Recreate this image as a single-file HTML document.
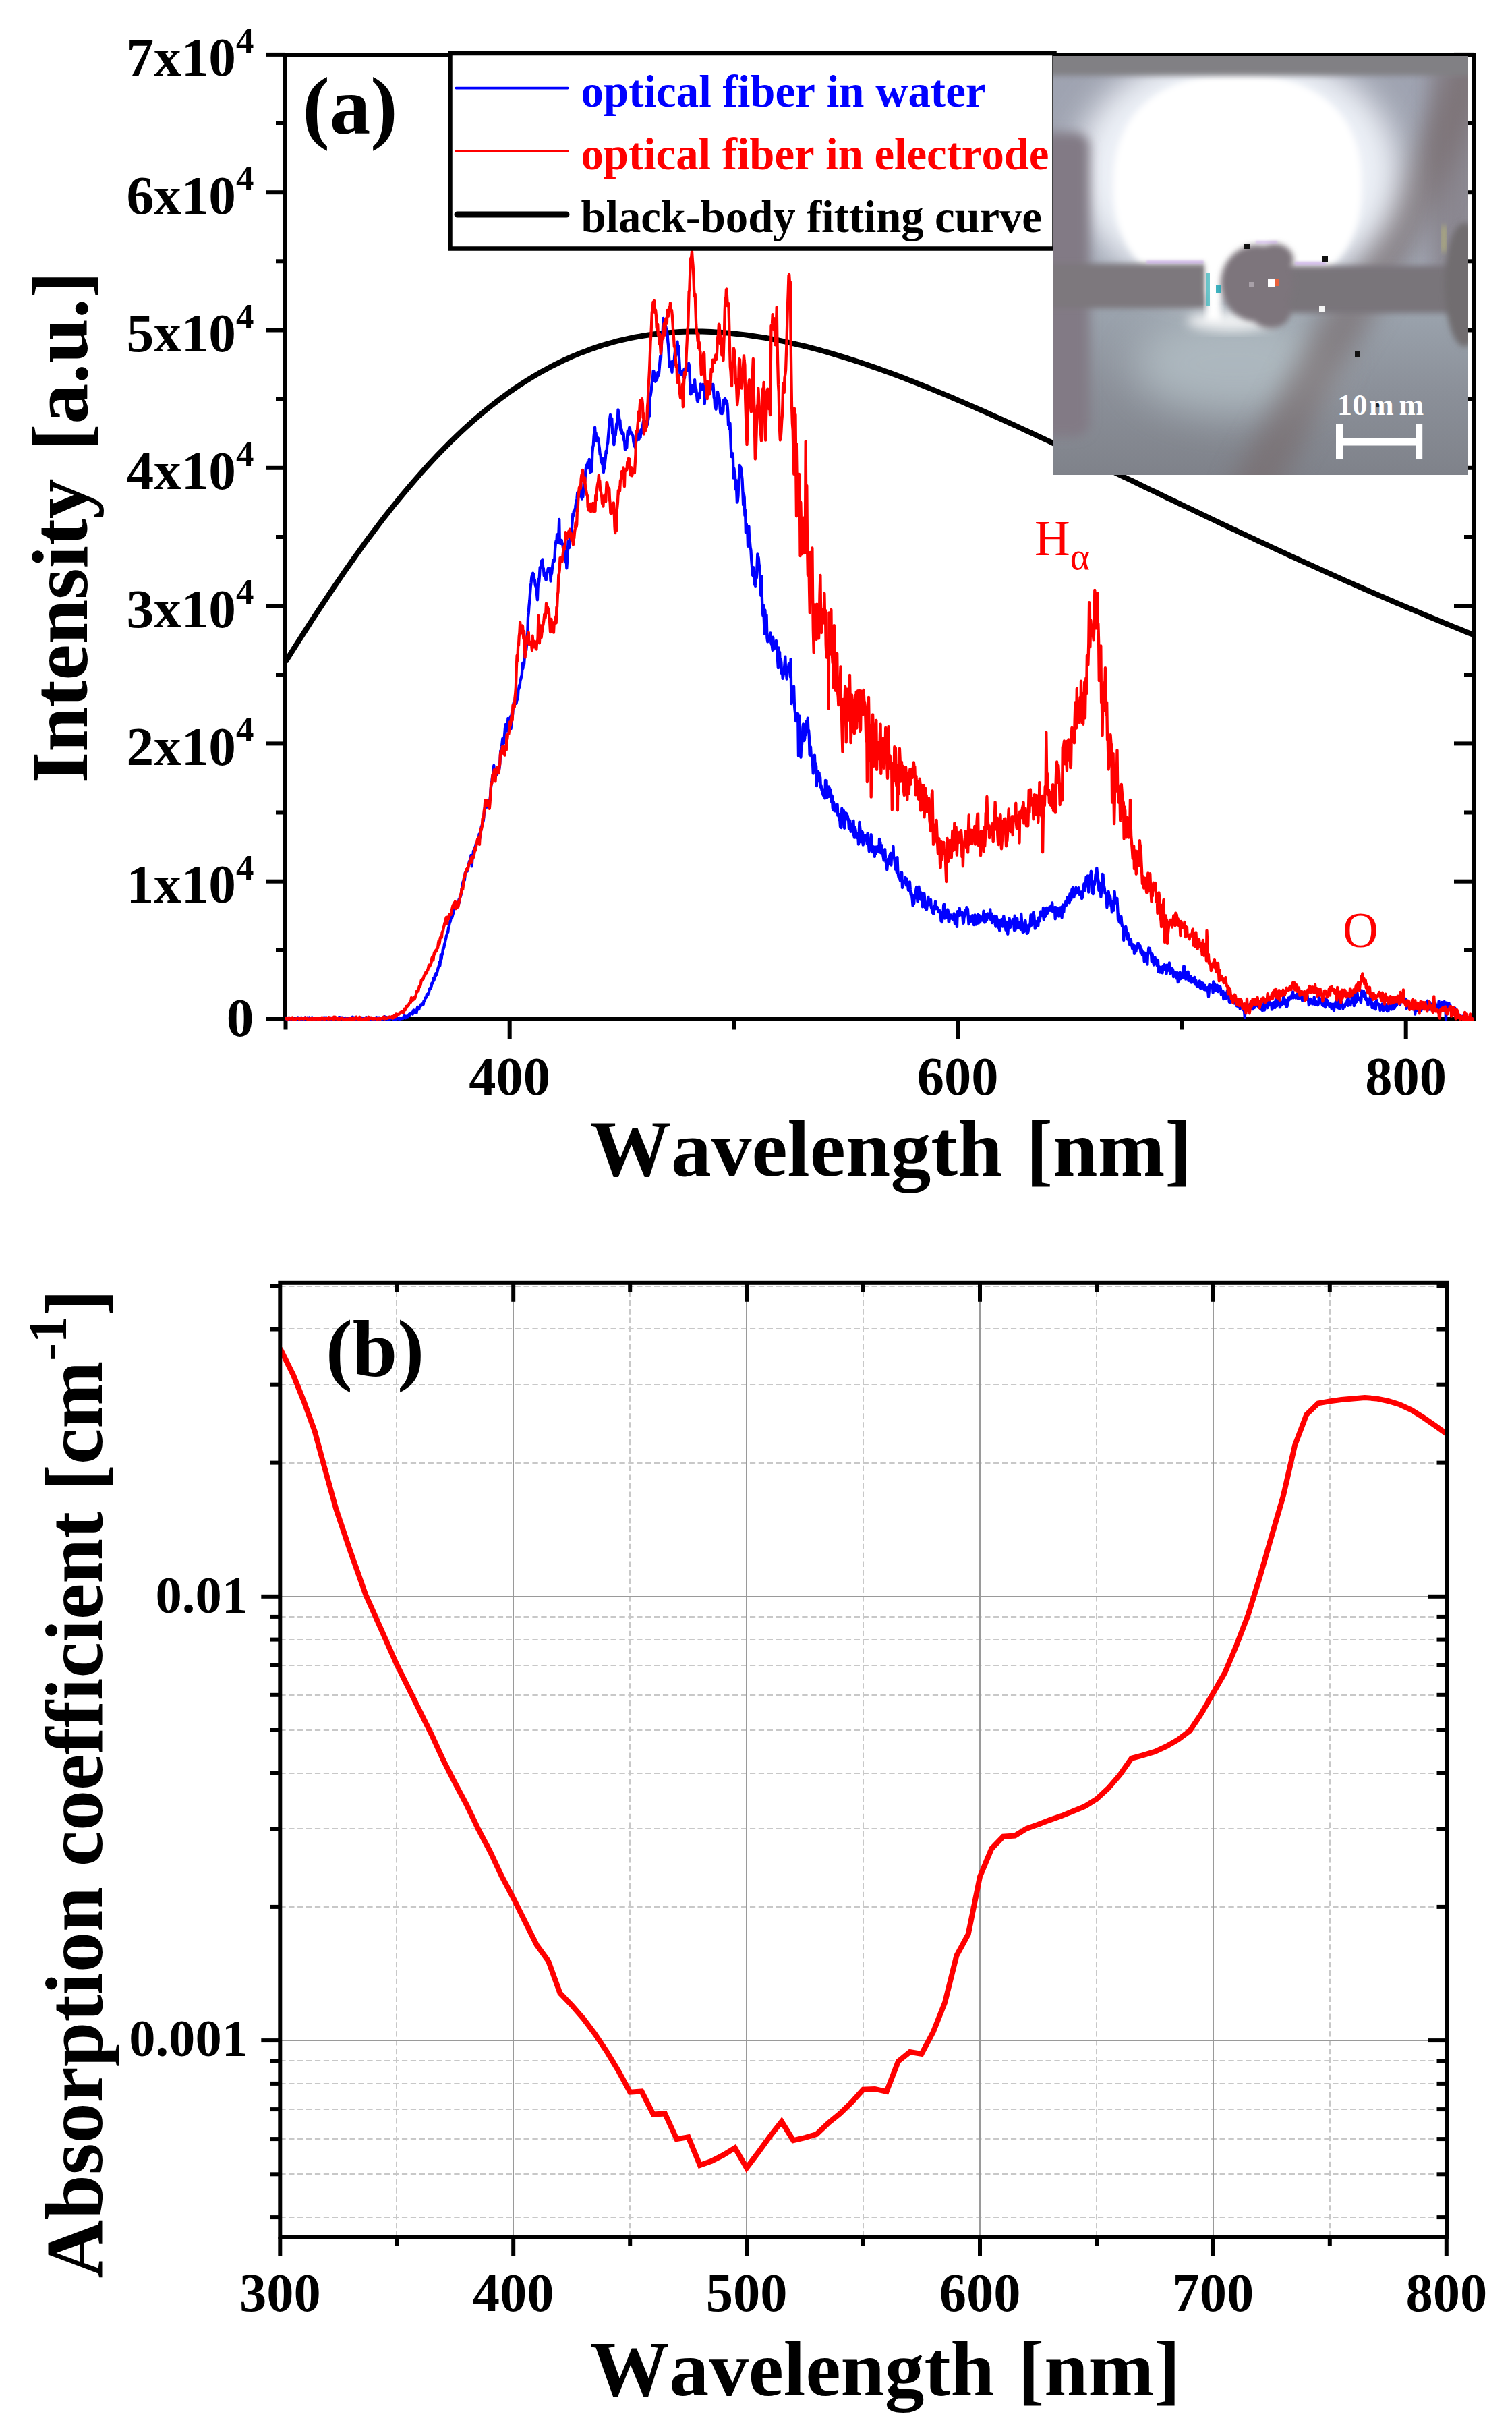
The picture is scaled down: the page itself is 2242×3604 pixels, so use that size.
<!DOCTYPE html>
<html lang="en"><head><meta charset="utf-8"><title>Emission spectra and absorption coefficient</title>
<style>html,body{margin:0;padding:0;background:#fff}svg{display:block}text{font-family:"Liberation Serif", serif;font-weight:bold;fill:#000;font-variant-ligatures:none;font-kerning:none}.r{font-weight:normal;fill:#f00}</style>
</head><body>
<svg width="2242" height="3604" viewBox="0 0 2242 3604">
<rect width="2242" height="3604" fill="#fff"/>
<defs>
<clipPath id="ca"><rect x="423.0" y="81.0" width="1762.0" height="1432.5"/></clipPath>
<clipPath id="cp"><rect x="1561" y="83" width="616" height="621"/></clipPath>
<filter id="b2" x="-20%" y="-100%" width="140%" height="300%"><feGaussianBlur stdDeviation="1.5"/></filter>
<filter id="b4" x="-20%" y="-20%" width="140%" height="140%"><feGaussianBlur stdDeviation="4"/></filter>
<filter id="b5" x="-20%" y="-20%" width="140%" height="140%"><feGaussianBlur stdDeviation="5"/></filter>
<filter id="b8" x="-30%" y="-30%" width="160%" height="160%"><feGaussianBlur stdDeviation="8"/></filter>
<filter id="b14" x="-40%" y="-40%" width="180%" height="180%"><feGaussianBlur stdDeviation="14"/></filter>
<filter id="b18" x="-50%" y="-50%" width="200%" height="200%"><feGaussianBlur stdDeviation="18"/></filter>
<filter id="b24" x="-50%" y="-50%" width="200%" height="200%"><feGaussianBlur stdDeviation="24"/></filter>
<filter id="b30" x="-60%" y="-60%" width="220%" height="220%"><feGaussianBlur stdDeviation="30"/></filter>
<linearGradient id="gbg" x1="0" y1="0" x2="0" y2="1"><stop offset="0" stop-color="#9ea2b0"/><stop offset="0.5" stop-color="#a3a9b6"/><stop offset="0.63" stop-color="#99a1ab"/><stop offset="0.8" stop-color="#8b9099"/><stop offset="1" stop-color="#7f828a"/></linearGradient>
</defs>
<g stroke="#000" stroke-width="6" fill="none" stroke-linecap="butt">
<rect x="423.0" y="81.0" width="1762.0" height="1430.0"/>
<line x1="395.0" y1="1511.0" x2="423.0" y2="1511.0"/>
<line x1="2156.0" y1="1511.0" x2="2185.0" y2="1511.0"/>
<line x1="409.0" y1="1408.8" x2="423.0" y2="1408.8"/>
<line x1="2171.0" y1="1408.8" x2="2185.0" y2="1408.8"/>
<line x1="395.0" y1="1306.7" x2="423.0" y2="1306.7"/>
<line x1="2156.0" y1="1306.7" x2="2185.0" y2="1306.7"/>
<line x1="409.0" y1="1204.5" x2="423.0" y2="1204.5"/>
<line x1="2171.0" y1="1204.5" x2="2185.0" y2="1204.5"/>
<line x1="395.0" y1="1102.4" x2="423.0" y2="1102.4"/>
<line x1="2156.0" y1="1102.4" x2="2185.0" y2="1102.4"/>
<line x1="409.0" y1="1000.2" x2="423.0" y2="1000.2"/>
<line x1="2171.0" y1="1000.2" x2="2185.0" y2="1000.2"/>
<line x1="395.0" y1="898.1" x2="423.0" y2="898.1"/>
<line x1="2156.0" y1="898.1" x2="2185.0" y2="898.1"/>
<line x1="409.0" y1="796.0" x2="423.0" y2="796.0"/>
<line x1="2171.0" y1="796.0" x2="2185.0" y2="796.0"/>
<line x1="395.0" y1="693.8" x2="423.0" y2="693.8"/>
<line x1="2156.0" y1="693.8" x2="2185.0" y2="693.8"/>
<line x1="409.0" y1="591.6" x2="423.0" y2="591.6"/>
<line x1="2171.0" y1="591.6" x2="2185.0" y2="591.6"/>
<line x1="395.0" y1="489.5" x2="423.0" y2="489.5"/>
<line x1="2156.0" y1="489.5" x2="2185.0" y2="489.5"/>
<line x1="409.0" y1="387.3" x2="423.0" y2="387.3"/>
<line x1="2171.0" y1="387.3" x2="2185.0" y2="387.3"/>
<line x1="395.0" y1="285.2" x2="423.0" y2="285.2"/>
<line x1="2156.0" y1="285.2" x2="2185.0" y2="285.2"/>
<line x1="409.0" y1="183.0" x2="423.0" y2="183.0"/>
<line x1="2171.0" y1="183.0" x2="2185.0" y2="183.0"/>
<line x1="395.0" y1="80.9" x2="423.0" y2="80.9"/>
<line x1="2156.0" y1="80.9" x2="2185.0" y2="80.9"/>
<line x1="423.5" y1="1511.0" x2="423.5" y2="1526.5"/>
<line x1="755.7" y1="1511.0" x2="755.7" y2="1541.0"/>
<line x1="1088.0" y1="1511.0" x2="1088.0" y2="1526.5"/>
<line x1="1420.2" y1="1511.0" x2="1420.2" y2="1541.0"/>
<line x1="1752.4" y1="1511.0" x2="1752.4" y2="1526.5"/>
<line x1="2084.7" y1="1511.0" x2="2084.7" y2="1541.0"/>
</g>
<g clip-path="url(#ca)" fill="none" stroke-linejoin="round">
<polyline points="423.5,980.9 430.1,970.4 436.7,959.9 443.4,949.4 450.0,939.0 456.7,928.7 463.3,918.4 470.0,908.3 476.6,898.2 483.3,888.2 489.9,878.2 496.5,868.4 503.2,858.7 509.8,849.0 516.5,839.5 523.1,830.1 529.8,820.7 536.4,811.5 543.1,802.4 549.7,793.5 556.4,784.6 563.0,775.9 569.6,767.2 576.3,758.8 582.9,750.4 589.6,742.2 596.2,734.1 602.9,726.1 609.5,718.3 616.2,710.6 622.8,703.0 629.4,695.6 636.1,688.3 642.7,681.1 649.4,674.1 656.0,667.3 662.7,660.5 669.3,653.9 676.0,647.5 682.6,641.2 689.2,635.0 695.9,629.0 702.5,623.1 709.2,617.4 715.8,611.8 722.5,606.3 729.1,601.0 735.8,595.8 742.4,590.8 749.1,585.9 755.7,581.1 762.3,576.5 769.0,572.0 775.6,567.6 782.3,563.4 788.9,559.3 795.6,555.4 802.2,551.5 808.9,547.9 815.5,544.3 822.2,540.9 828.8,537.6 835.4,534.4 842.1,531.3 848.7,528.4 855.4,525.6 862.0,522.9 868.7,520.4 875.3,517.9 882.0,515.6 888.6,513.4 895.2,511.3 901.9,509.3 908.5,507.5 915.2,505.7 921.8,504.1 928.5,502.6 935.1,501.1 941.8,499.8 948.4,498.6 955.1,497.5 961.7,496.5 968.3,495.5 975.0,494.7 981.6,494.0 988.3,493.4 994.9,492.9 1001.6,492.4 1008.2,492.1 1014.9,491.8 1021.5,491.6 1028.1,491.6 1034.8,491.6 1041.4,491.6 1048.1,491.8 1054.7,492.1 1061.4,492.4 1068.0,492.8 1074.7,493.3 1081.3,493.8 1088.0,494.5 1094.6,495.2 1101.2,495.9 1107.9,496.8 1114.5,497.7 1121.2,498.7 1127.8,499.7 1134.5,500.8 1141.1,502.0 1147.8,503.2 1154.4,504.5 1161.0,505.9 1167.7,507.3 1174.3,508.8 1181.0,510.3 1187.6,511.9 1194.3,513.5 1200.9,515.2 1207.6,516.9 1214.2,518.7 1220.8,520.5 1227.5,522.4 1234.1,524.3 1240.8,526.3 1247.4,528.3 1254.1,530.4 1260.7,532.5 1267.4,534.6 1274.0,536.8 1280.7,539.0 1287.3,541.3 1293.9,543.6 1300.6,545.9 1307.2,548.3 1313.9,550.7 1320.5,553.1 1327.2,555.6 1333.8,558.1 1340.5,560.6 1347.1,563.2 1353.8,565.8 1360.4,568.4 1367.0,571.0 1373.7,573.7 1380.3,576.4 1387.0,579.1 1393.6,581.9 1400.3,584.6 1406.9,587.4 1413.6,590.2 1420.2,593.1 1426.8,595.9 1433.5,598.8 1440.1,601.7 1446.8,604.6 1453.4,607.5 1460.1,610.4 1466.7,613.4 1473.4,616.4 1480.0,619.4 1486.7,622.4 1493.3,625.4 1499.9,628.4 1506.6,631.4 1513.2,634.5 1519.9,637.6 1526.5,640.6 1533.2,643.7 1539.8,646.8 1546.5,649.9 1553.1,653.0 1559.7,656.2 1566.4,659.3 1573.0,662.4 1579.7,665.6 1586.3,668.7 1593.0,671.9 1599.6,675.0 1606.3,678.2 1612.9,681.4 1619.5,684.5 1626.2,687.7 1632.8,690.9 1639.5,694.1 1646.1,697.3 1652.8,700.5 1659.4,703.6 1666.1,706.8 1672.7,710.0 1679.4,713.2 1686.0,716.4 1692.6,719.6 1699.3,722.8 1705.9,726.0 1712.6,729.2 1719.2,732.4 1725.9,735.6 1732.5,738.8 1739.2,741.9 1745.8,745.1 1752.4,748.3 1759.1,751.5 1765.7,754.7 1772.4,757.8 1779.0,761.0 1785.7,764.2 1792.3,767.3 1799.0,770.5 1805.6,773.6 1812.3,776.8 1818.9,779.9 1825.5,783.1 1832.2,786.2 1838.8,789.3 1845.5,792.4 1852.1,795.5 1858.8,798.7 1865.4,801.8 1872.1,804.9 1878.7,807.9 1885.3,811.0 1892.0,814.1 1898.6,817.2 1905.3,820.2 1911.9,823.3 1918.6,826.3 1925.2,829.4 1931.9,832.4 1938.5,835.4 1945.2,838.4 1951.8,841.4 1958.4,844.4 1965.1,847.4 1971.7,850.4 1978.4,853.4 1985.0,856.4 1991.7,859.3 1998.3,862.3 2005.0,865.2 2011.6,868.1 2018.2,871.0 2024.9,874.0 2031.5,876.9 2038.2,879.7 2044.8,882.6 2051.5,885.5 2058.1,888.4 2064.8,891.2 2071.4,894.1 2078.1,896.9 2084.7,899.7 2091.3,902.5 2098.0,905.3 2104.6,908.1 2111.3,910.9 2117.9,913.7 2124.6,916.5 2131.2,919.2 2137.9,922.0 2144.5,924.7 2151.1,927.4 2157.8,930.1 2164.4,932.8 2171.1,935.5 2177.7,938.2 2184.4,940.9" stroke="#000" stroke-width="8"/>
<polyline points="423.0,1509.2 423.7,1509.0 424.5,1509.0 425.2,1511.2 425.8,1511.5 426.6,1510.7 427.3,1510.7 428.0,1508.9 428.8,1508.8 429.5,1511.5 430.3,1510.4 430.9,1510.3 431.7,1511.5 432.4,1511.5 433.1,1511.5 433.8,1511.1 434.6,1510.8 435.2,1510.5 436.0,1510.7 436.8,1510.9 437.5,1511.5 438.3,1510.7 439.1,1511.5 439.8,1510.7 440.4,1511.2 441.2,1509.8 441.9,1508.6 442.6,1511.2 443.3,1510.3 444.2,1511.1 444.8,1511.5 445.6,1510.6 446.3,1510.9 447.0,1508.8 447.7,1510.8 448.4,1510.0 449.1,1509.8 450.0,1511.4 450.7,1510.7 451.6,1509.1 452.3,1508.6 453.2,1510.8 454.1,1510.2 454.9,1509.4 455.7,1508.7 456.5,1509.3 457.3,1511.1 458.1,1510.3 458.9,1508.6 459.7,1511.1 460.4,1510.0 461.2,1510.2 462.0,1510.4 462.8,1508.5 463.6,1510.2 464.4,1510.8 465.1,1511.0 466.0,1509.8 466.6,1509.4 467.4,1509.3 468.2,1511.0 468.8,1510.5 469.6,1509.2 470.3,1509.8 471.0,1510.3 471.7,1509.3 472.6,1509.8 473.2,1511.2 473.9,1510.3 474.7,1509.0 475.5,1510.3 476.3,1510.9 477.1,1509.5 477.9,1511.0 478.6,1510.1 479.4,1510.6 480.3,1508.7 481.1,1510.4 481.9,1508.7 482.5,1510.0 483.2,1509.3 483.8,1508.5 484.6,1510.9 485.3,1510.6 486.1,1509.5 486.9,1509.7 487.7,1510.6 488.5,1509.7 489.2,1509.9 490.0,1508.7 490.7,1509.8 491.4,1511.5 492.2,1511.3 493.0,1509.6 493.8,1510.5 494.4,1510.5 495.2,1509.4 496.0,1510.9 496.6,1509.3 497.4,1509.4 498.1,1509.3 498.9,1510.5 499.7,1511.0 500.6,1511.1 501.3,1510.5 501.9,1510.8 502.6,1508.1 503.3,1508.9 503.9,1508.2 504.7,1510.0 505.4,1509.0 506.0,1510.2 506.9,1510.6 507.7,1508.6 508.5,1508.8 509.1,1509.3 509.9,1510.0 510.5,1510.0 511.4,1509.6 512.1,1509.1 512.9,1509.9 513.7,1510.5 514.6,1509.7 515.3,1510.0 516.0,1511.1 516.8,1510.7 517.5,1509.6 518.2,1511.5 519.1,1510.7 519.9,1510.3 520.5,1509.9 521.4,1508.9 522.1,1511.5 522.8,1507.8 523.6,1510.4 524.4,1510.0 525.1,1508.7 525.8,1509.1 526.6,1509.9 527.3,1511.1 528.1,1510.4 529.0,1511.5 529.7,1511.4 530.6,1510.2 531.4,1509.8 532.1,1510.2 532.8,1508.7 533.5,1508.9 534.2,1511.5 534.9,1511.5 535.7,1510.1 536.5,1508.9 537.2,1510.0 538.0,1510.5 538.7,1509.9 539.4,1511.5 540.2,1509.6 540.9,1510.0 541.5,1510.7 542.2,1509.5 542.9,1508.2 543.7,1509.7 544.4,1511.5 545.1,1509.4 545.8,1510.1 546.6,1511.0 547.4,1510.2 548.2,1509.8 548.9,1511.5 549.7,1511.0 550.4,1511.5 551.1,1510.0 551.8,1510.6 552.6,1511.0 553.4,1511.5 554.2,1509.1 554.9,1510.1 555.8,1510.6 556.6,1511.5 557.4,1510.0 558.2,1508.2 558.9,1511.5 559.7,1510.1 560.4,1511.0 561.2,1511.5 562.0,1508.6 562.7,1509.2 563.6,1509.4 564.3,1509.2 565.0,1511.2 565.7,1511.5 566.6,1510.9 567.3,1510.4 567.9,1510.5 568.7,1509.5 569.5,1509.7 570.2,1507.1 570.9,1511.5 571.6,1508.9 572.5,1508.8 573.2,1508.2 574.0,1509.9 574.7,1510.9 575.6,1509.9 576.4,1511.5 577.2,1511.1 577.8,1508.7 578.6,1510.2 579.3,1510.3 580.0,1508.4 580.9,1509.1 581.6,1507.7 582.4,1510.2 583.2,1511.3 583.9,1509.7 584.7,1511.5 585.4,1509.6 586.1,1509.3 586.9,1509.5 587.6,1511.0 588.3,1510.1 589.0,1508.8 589.7,1510.2 590.4,1509.9 591.1,1510.6 591.8,1509.7 592.5,1509.0 593.3,1511.2 594.1,1510.5 594.9,1510.1 595.7,1509.7 596.5,1510.1 597.3,1510.0 598.0,1508.1 598.9,1507.5 599.6,1506.1 600.4,1506.5 601.3,1509.2 602.0,1506.8 602.9,1507.8 603.7,1506.5 604.5,1507.0 605.1,1507.2 606.0,1505.3 606.8,1503.8 607.4,1505.0 608.2,1503.6 608.9,1502.6 609.5,1502.8 610.3,1501.4 611.1,1502.3 611.9,1503.4 612.7,1498.8 613.4,1497.5 614.1,1499.4 614.8,1499.9 615.5,1500.8 616.2,1501.7 616.9,1498.7 617.6,1501.8 618.4,1495.5 619.2,1492.9 620.0,1496.2 620.7,1494.9 621.3,1496.3 622.0,1492.8 622.9,1491.4 623.7,1489.8 624.6,1490.7 625.3,1488.4 626.2,1488.8 627.0,1488.2 627.7,1489.3 628.4,1484.3 629.0,1483.9 629.7,1483.2 630.5,1479.4 631.3,1479.6 632.1,1477.8 632.9,1474.5 633.6,1473.9 634.4,1475.0 635.1,1472.5 635.9,1471.6 636.7,1466.6 637.4,1465.2 638.2,1466.1 639.0,1463.1 639.7,1462.3 640.4,1457.3 641.2,1457.8 642.0,1455.6 642.8,1450.3 643.4,1453.8 644.2,1450.3 645.0,1445.7 645.7,1447.6 646.4,1442.8 647.2,1445.2 647.9,1442.2 648.7,1439.6 649.4,1436.0 650.2,1433.6 651.0,1431.3 651.7,1426.2 652.3,1431.8 653.1,1423.9 653.8,1415.5 654.5,1422.1 655.3,1415.7 656.1,1414.6 656.8,1407.2 657.6,1406.7 658.4,1404.2 659.1,1399.4 659.9,1397.5 660.6,1393.1 661.2,1391.5 662.0,1386.9 662.7,1386.1 663.5,1381.4 664.2,1382.2 665.1,1375.1 665.7,1373.9 666.4,1369.6 667.1,1367.3 667.8,1366.0 668.6,1360.6 669.3,1359.0 670.0,1360.9 670.8,1358.1 671.6,1355.0 672.5,1353.5 673.2,1348.8 673.9,1347.5 674.6,1345.2 675.3,1345.9 676.1,1346.8 676.8,1344.0 677.6,1345.2 678.3,1339.7 679.0,1342.6 679.8,1339.6 680.5,1333.3 681.3,1337.9 682.0,1329.5 682.9,1329.0 683.5,1326.9 684.2,1323.2 684.9,1317.0 685.7,1312.9 686.5,1307.2 687.3,1309.0 688.1,1302.3 688.9,1304.8 689.7,1294.1 690.4,1294.3 691.1,1292.2 691.8,1292.1 692.6,1291.7 693.3,1290.7 694.0,1286.2 694.7,1283.3 695.4,1279.3 696.2,1276.4 697.0,1279.4 697.7,1275.0 698.4,1267.9 699.0,1269.8 699.7,1284.3 700.5,1271.7 701.3,1268.3 702.0,1261.5 702.7,1263.8 703.4,1256.8 704.1,1256.1 704.8,1256.4 705.5,1252.5 706.2,1250.2 706.9,1250.1 707.6,1249.0 708.3,1247.7 709.1,1245.4 709.9,1242.4 710.6,1236.3 711.5,1242.5 712.3,1234.1 713.0,1232.5 713.8,1225.6 714.5,1224.4 715.3,1221.5 716.1,1218.8 716.8,1216.2 717.4,1210.0 718.1,1202.6 719.0,1196.7 719.7,1198.7 720.4,1194.7 721.1,1192.4 721.8,1188.0 722.5,1187.7 723.4,1191.4 724.2,1197.6 725.1,1190.0 725.7,1186.1 726.4,1186.8 727.1,1179.1 727.8,1168.7 728.6,1161.8 729.4,1157.8 730.1,1151.4 730.9,1148.1 731.6,1144.1 732.3,1134.9 733.0,1143.7 733.9,1154.4 734.5,1150.5 735.4,1147.3 736.0,1149.1 736.8,1139.4 737.5,1140.7 738.3,1142.5 739.1,1145.4 739.9,1141.2 740.6,1138.0 741.4,1129.5 742.3,1113.0 743.1,1112.2 743.9,1107.1 744.6,1101.2 745.3,1094.8 745.9,1095.5 746.6,1101.3 747.3,1101.8 748.0,1091.5 748.8,1081.5 749.5,1074.2 750.3,1082.2 751.1,1079.4 751.9,1083.6 752.7,1076.9 753.4,1064.8 754.1,1069.8 754.8,1073.9 755.5,1074.2 756.3,1076.9 757.0,1062.2 757.7,1080.1 758.5,1060.3 759.2,1055.3 760.1,1059.4 760.9,1047.6 761.6,1042.2 762.5,1045.3 763.2,1042.3 764.0,1033.4 764.8,1033.7 765.5,1042.8 766.4,1037.6 767.1,1037.0 767.9,1033.1 768.5,1022.3 769.2,1021.3 770.0,1015.8 770.6,1018.9 771.4,1008.3 772.2,1007.0 773.1,1002.7 773.8,1001.4 774.7,983.9 775.4,991.1 776.2,982.2 777.1,985.0 777.9,972.2 778.6,966.2 779.3,956.2 780.2,964.3 780.9,956.6 781.6,941.7 782.3,938.4 783.0,915.2 783.8,908.5 784.5,898.2 785.3,890.6 786.0,880.3 786.8,869.4 787.6,863.7 788.4,855.3 789.3,851.9 790.1,849.6 790.9,853.0 791.6,851.3 792.3,860.9 793.0,860.1 793.7,867.5 794.5,869.6 795.2,871.3 796.1,881.0 796.9,889.4 797.5,872.6 798.4,858.7 799.2,863.2 800.0,852.8 800.7,841.1 801.4,842.3 802.2,840.4 802.9,831.6 803.6,838.4 804.4,829.5 805.2,842.1 805.9,842.8 806.7,853.6 807.5,849.5 808.3,853.7 809.0,858.0 809.7,859.9 810.5,855.7 811.3,849.5 812.0,847.5 812.7,842.7 813.4,842.5 814.2,847.3 815.0,843.4 815.8,843.2 816.5,861.5 817.3,851.1 818.1,850.4 818.8,843.2 819.7,835.7 820.3,830.5 821.0,829.9 821.7,832.1 822.5,826.8 823.1,813.6 823.8,806.4 824.6,801.8 825.3,804.5 826.0,792.4 826.9,804.3 827.8,801.0 828.5,788.9 829.2,769.8 829.9,805.4 830.5,802.8 831.3,801.5 831.9,805.9 832.7,800.9 833.5,805.7 834.2,806.5 835.0,812.6 835.8,815.3 836.5,817.0 837.4,821.9 838.1,822.5 838.9,833.5 839.5,817.8 840.3,842.3 840.9,833.4 841.7,822.0 842.5,802.6 843.3,809.8 844.0,812.1 844.8,798.1 845.6,799.8 846.4,798.2 847.1,785.9 848.0,782.2 848.6,773.6 849.4,761.7 850.2,764.2 850.8,757.4 851.6,758.3 852.3,756.9 853.0,753.1 853.9,746.8 854.6,744.5 855.4,739.8 856.2,730.4 856.9,742.1 857.6,732.4 858.4,730.9 859.2,726.3 859.9,734.3 860.7,735.4 861.6,733.1 862.2,731.1 862.9,739.6 863.7,724.4 864.4,736.5 865.2,723.6 865.9,712.9 866.6,711.4 867.3,713.5 868.2,700.6 869.0,693.5 869.9,689.4 870.5,694.4 871.4,685.9 872.2,688.0 872.9,687.4 873.7,680.9 874.5,692.0 875.3,700.6 876.0,696.2 876.9,692.6 877.5,698.8 878.3,671.9 879.1,662.7 879.8,660.4 880.6,646.8 881.3,640.8 882.1,633.7 882.8,646.0 883.6,641.8 884.4,654.0 885.1,649.1 885.9,650.7 886.5,649.0 887.3,650.4 888.1,659.9 888.9,665.1 889.7,673.7 890.6,674.4 891.2,684.3 892.0,685.0 892.8,687.4 893.5,679.8 894.1,696.3 894.9,700.1 895.7,687.0 896.4,694.5 897.1,685.1 897.8,678.8 898.6,668.6 899.5,671.3 900.3,659.2 901.2,656.8 901.9,647.1 902.6,639.4 903.4,630.0 904.2,621.1 905.0,615.0 905.7,620.7 906.5,622.3 907.3,620.4 908.1,642.6 908.8,642.5 909.6,653.1 910.4,659.3 911.2,650.2 911.9,646.6 912.7,645.0 913.4,637.1 914.2,628.2 915.0,634.7 915.8,624.6 916.5,607.3 917.4,612.5 918.1,618.9 918.8,624.4 919.4,622.9 920.2,637.8 920.8,636.4 921.6,636.6 922.3,643.0 923.1,642.0 923.8,641.5 924.6,642.8 925.3,652.8 926.1,654.1 926.9,666.7 927.7,664.6 928.5,661.1 929.3,663.6 930.1,647.2 930.8,638.9 931.6,645.4 932.4,641.0 933.2,634.0 934.0,635.2 934.7,640.0 935.4,642.7 936.2,641.2 937.0,642.1 937.7,645.2 938.5,645.9 939.3,654.4 940.0,657.7 940.6,661.5 941.4,654.7 942.2,663.5 943.0,656.4 943.8,646.7 944.5,650.6 945.2,652.0 945.8,638.3 946.6,640.4 947.4,651.8 948.1,641.9 948.9,645.5 949.6,648.5 950.4,637.2 951.1,638.5 951.8,642.5 952.5,635.9 953.3,629.1 954.0,624.7 954.6,623.5 955.3,626.7 956.2,627.8 957.0,630.5 957.7,632.1 958.5,624.6 959.2,631.5 960.0,628.5 960.7,625.1 961.5,620.0 962.4,606.8 963.2,616.7 963.8,588.8 964.6,586.3 965.5,580.7 966.1,574.3 966.8,567.4 967.4,562.5 968.1,559.0 968.7,549.9 969.5,550.6 970.2,554.7 970.8,564.4 971.6,565.7 972.4,560.2 973.0,564.1 973.8,557.2 974.5,561.0 975.4,551.9 976.2,557.3 977.0,554.1 977.9,543.5 978.5,536.0 979.2,528.2 980.0,531.2 980.7,515.0 981.4,499.1 982.0,501.5 982.9,487.1 983.6,471.9 984.4,475.5 985.1,480.5 985.8,485.1 986.6,484.8 987.2,483.8 988.1,488.9 988.8,490.5 989.7,496.6 990.3,505.9 991.0,512.0 991.8,525.0 992.6,543.3 993.4,540.0 994.2,536.7 995.0,541.7 995.7,545.2 996.5,551.8 997.3,535.2 998.1,535.4 998.8,541.6 999.5,539.3 1000.2,528.2 1000.9,521.7 1001.6,527.9 1002.2,527.3 1003.0,517.5 1003.7,514.9 1004.5,506.6 1005.2,516.0 1005.9,512.7 1006.7,526.0 1007.6,539.6 1008.4,554.3 1009.1,553.5 1009.9,555.2 1010.6,553.5 1011.3,550.7 1012.0,555.0 1012.8,550.3 1013.4,558.7 1014.2,548.0 1015.0,560.4 1015.8,548.8 1016.6,546.3 1017.4,543.2 1018.2,545.7 1019.0,548.8 1019.6,549.3 1020.3,543.9 1021.1,538.6 1021.8,541.3 1022.5,550.6 1023.2,569.7 1023.9,584.3 1024.7,584.1 1025.5,571.1 1026.3,581.0 1027.0,577.7 1027.7,581.0 1028.6,574.5 1029.4,570.6 1030.1,563.2 1030.9,575.2 1031.5,580.4 1032.2,576.1 1032.9,583.5 1033.8,593.4 1034.6,595.7 1035.4,591.8 1036.1,583.5 1036.7,583.1 1037.5,589.9 1038.2,576.9 1038.9,569.5 1039.6,572.1 1040.4,577.1 1041.1,575.4 1041.9,571.4 1042.7,569.8 1043.4,573.5 1044.1,579.4 1044.8,598.5 1045.5,582.9 1046.3,584.6 1047.0,590.1 1047.8,582.8 1048.5,581.2 1049.2,575.9 1049.9,581.8 1050.8,580.9 1051.5,578.5 1052.2,580.9 1053.0,581.1 1053.7,575.8 1054.5,576.6 1055.3,573.9 1056.0,569.8 1056.7,573.8 1057.4,569.9 1058.1,579.5 1058.7,589.4 1059.4,590.5 1060.1,603.1 1060.8,602.3 1061.6,606.9 1062.4,594.2 1063.2,597.7 1064.0,581.0 1064.7,584.1 1065.5,597.4 1066.3,589.1 1067.0,594.9 1067.7,605.6 1068.3,612.6 1069.1,604.8 1069.9,610.5 1070.7,613.2 1071.5,604.5 1072.3,610.2 1073.0,593.1 1073.7,599.9 1074.4,591.9 1075.0,590.7 1075.9,593.1 1076.7,595.2 1077.5,594.7 1078.3,597.7 1079.2,609.3 1080.0,630.2 1080.8,625.7 1081.7,635.2 1082.5,627.6 1083.2,647.7 1083.9,664.8 1084.7,677.1 1085.5,674.2 1086.1,675.9 1086.8,672.4 1087.6,708.7 1088.4,694.4 1089.0,700.4 1089.9,702.0 1090.7,725.5 1091.4,711.8 1092.1,723.8 1092.9,744.6 1093.7,743.2 1094.5,735.4 1095.3,713.4 1096.0,708.0 1096.8,689.9 1097.6,700.7 1098.3,692.5 1099.0,695.8 1099.7,703.2 1100.5,710.6 1101.3,726.4 1102.1,748.3 1102.9,732.2 1103.7,737.5 1104.4,764.1 1105.1,756.5 1105.9,789.7 1106.8,776.9 1107.5,783.8 1108.2,781.2 1109.0,809.8 1109.8,798.7 1110.4,780.3 1111.1,799.9 1111.9,802.8 1112.6,811.5 1113.4,815.4 1114.2,829.3 1114.9,837.9 1115.7,851.9 1116.4,853.2 1117.1,841.2 1117.9,853.3 1118.7,866.7 1119.4,854.3 1120.1,868.9 1120.9,849.0 1121.8,856.7 1122.6,838.3 1123.3,821.4 1123.9,823.9 1124.8,827.5 1125.5,836.6 1126.2,838.7 1126.9,853.0 1127.7,870.9 1128.3,883.0 1129.2,854.4 1130.0,889.5 1130.6,906.6 1131.4,912.5 1132.1,897.6 1132.9,920.0 1133.6,939.3 1134.4,904.5 1135.3,923.7 1135.9,927.9 1136.6,911.9 1137.4,945.3 1138.2,951.3 1139.0,947.6 1139.7,949.2 1140.5,948.5 1141.2,945.9 1141.8,939.9 1142.5,938.5 1143.3,952.6 1144.0,955.1 1144.7,956.2 1145.6,963.8 1146.2,944.7 1146.9,952.7 1147.7,962.3 1148.5,959.1 1149.3,957.4 1150.1,960.3 1150.9,949.9 1151.6,957.9 1152.3,960.4 1153.1,978.6 1153.8,990.2 1154.7,960.3 1155.4,970.7 1156.1,966.9 1156.8,989.8 1157.6,976.6 1158.4,982.2 1159.1,998.4 1159.9,993.5 1160.7,1005.8 1161.4,1001.6 1162.0,997.9 1162.8,993.3 1163.5,984.8 1164.3,973.7 1165.1,994.1 1165.8,994.8 1166.7,1006.5 1167.4,990.9 1168.2,989.7 1168.9,990.5 1169.7,984.1 1170.5,985.0 1171.2,993.1 1171.9,1003.6 1172.6,977.1 1173.4,1043.1 1174.2,1029.4 1174.9,1018.6 1175.6,1027.3 1176.4,1035.0 1177.1,1017.6 1177.9,1044.8 1178.6,1052.8 1179.3,1059.3 1180.1,1069.1 1180.8,1067.9 1181.6,1066.7 1182.4,1057.3 1183.2,1058.2 1184.0,1120.9 1184.6,1100.2 1185.3,1061.4 1186.0,1096.0 1186.7,1119.5 1187.5,1122.8 1188.2,1102.6 1189.0,1103.9 1189.7,1094.3 1190.4,1078.5 1191.1,1073.4 1191.9,1094.7 1192.5,1098.0 1193.2,1094.9 1193.9,1082.3 1194.7,1089.4 1195.4,1069.1 1196.1,1069.0 1196.9,1077.0 1197.7,1064.7 1198.5,1085.5 1199.1,1082.5 1199.8,1091.6 1200.6,1119.5 1201.3,1114.1 1202.0,1107.4 1202.7,1119.4 1203.5,1121.3 1204.2,1123.7 1204.9,1128.2 1205.7,1146.5 1206.5,1134.5 1207.2,1136.9 1207.9,1119.7 1208.6,1137.1 1209.4,1132.0 1210.2,1135.6 1210.9,1165.2 1211.7,1147.7 1212.4,1146.4 1213.2,1143.9 1213.9,1146.5 1214.6,1145.7 1215.4,1159.1 1216.2,1152.1 1216.9,1166.9 1217.7,1164.9 1218.4,1171.0 1219.3,1171.8 1220.1,1176.5 1220.9,1179.0 1221.7,1179.9 1222.5,1170.2 1223.2,1183.5 1224.0,1157.0 1224.7,1175.3 1225.5,1157.5 1226.2,1182.4 1227.0,1166.6 1227.7,1166.5 1228.4,1181.2 1229.1,1166.4 1229.9,1168.7 1230.8,1170.3 1231.6,1179.1 1232.3,1177.4 1233.0,1188.9 1233.8,1179.9 1234.7,1197.7 1235.5,1201.0 1236.2,1189.7 1236.8,1193.7 1237.6,1202.3 1238.3,1200.0 1239.2,1193.7 1240.0,1196.6 1240.8,1205.4 1241.6,1192.7 1242.3,1208.9 1243.0,1206.8 1243.7,1209.6 1244.5,1215.3 1245.2,1214.3 1246.0,1225.7 1246.8,1219.1 1247.5,1227.0 1248.3,1198.6 1249.1,1209.9 1249.8,1212.2 1250.7,1201.5 1251.4,1203.5 1252.1,1227.8 1252.8,1223.7 1253.5,1205.3 1254.3,1206.6 1255.0,1205.9 1255.7,1214.3 1256.6,1209.1 1257.4,1213.3 1258.1,1215.0 1258.9,1228.3 1259.5,1217.0 1260.3,1216.7 1261.0,1229.0 1261.7,1232.7 1262.6,1232.5 1263.3,1228.7 1263.9,1222.3 1264.8,1221.1 1265.5,1216.8 1266.2,1238.6 1267.0,1241.7 1267.8,1226.7 1268.6,1230.8 1269.3,1238.8 1269.9,1241.9 1270.6,1235.9 1271.3,1236.9 1272.1,1236.3 1273.0,1251.5 1273.6,1239.2 1274.4,1218.9 1275.2,1226.6 1276.0,1234.9 1276.7,1248.3 1277.6,1232.1 1278.3,1236.0 1279.0,1233.8 1279.7,1252.6 1280.5,1246.2 1281.2,1241.2 1281.9,1240.7 1282.7,1238.2 1283.4,1239.4 1284.1,1239.4 1284.9,1245.0 1285.7,1250.8 1286.5,1235.5 1287.3,1244.1 1288.0,1250.8 1288.7,1262.0 1289.4,1253.1 1290.3,1252.6 1291.0,1254.3 1291.6,1237.1 1292.5,1245.9 1293.1,1263.1 1294.0,1254.4 1294.7,1257.8 1295.4,1258.7 1296.1,1259.6 1296.8,1269.9 1297.5,1255.3 1298.2,1256.3 1299.0,1265.0 1299.9,1257.5 1300.5,1256.5 1301.3,1254.4 1302.0,1257.5 1302.7,1261.1 1303.4,1263.1 1304.0,1243.9 1304.7,1246.9 1305.4,1249.4 1306.2,1264.3 1306.9,1256.2 1307.7,1253.3 1308.3,1265.9 1309.1,1266.4 1309.9,1271.2 1310.6,1275.4 1311.4,1265.7 1312.2,1259.1 1313.0,1272.2 1313.7,1278.5 1314.5,1278.7 1315.3,1289.3 1316.1,1279.7 1316.9,1273.7 1317.6,1281.3 1318.4,1278.3 1319.2,1268.9 1319.8,1267.2 1320.6,1265.0 1321.4,1282.6 1322.2,1266.1 1322.8,1268.4 1323.7,1267.3 1324.5,1254.9 1325.1,1271.6 1325.9,1271.0 1326.8,1277.8 1327.6,1288.7 1328.2,1285.4 1328.9,1286.4 1329.8,1293.1 1330.5,1271.1 1331.3,1291.2 1332.1,1298.1 1332.8,1301.3 1333.6,1301.3 1334.2,1302.6 1334.9,1305.6 1335.6,1303.5 1336.5,1293.5 1337.2,1293.6 1338.0,1316.0 1338.7,1314.7 1339.5,1307.9 1340.2,1306.8 1341.0,1307.7 1341.7,1306.5 1342.4,1301.0 1343.1,1306.9 1343.9,1312.4 1344.7,1302.7 1345.4,1312.0 1346.1,1310.1 1346.8,1319.7 1347.5,1317.3 1348.3,1320.5 1349.0,1307.4 1349.8,1319.0 1350.6,1326.3 1351.4,1324.2 1352.2,1328.4 1352.9,1334.6 1353.6,1342.7 1354.3,1336.5 1355.2,1339.4 1356.0,1327.1 1356.9,1328.9 1357.5,1331.2 1358.3,1319.2 1359.1,1314.8 1359.8,1322.7 1360.5,1336.4 1361.1,1327.0 1361.8,1318.6 1362.5,1314.7 1363.4,1323.1 1364.2,1321.5 1365.0,1333.7 1365.7,1330.6 1366.5,1324.0 1367.3,1335.5 1368.0,1344.3 1368.8,1330.7 1369.5,1330.4 1370.3,1324.3 1371.0,1330.7 1371.9,1345.3 1372.7,1338.6 1373.5,1348.9 1374.1,1348.0 1375.0,1337.8 1375.6,1337.6 1376.4,1329.8 1377.1,1341.3 1377.8,1339.4 1378.6,1341.1 1379.3,1340.9 1380.1,1333.8 1380.8,1345.4 1381.6,1345.1 1382.4,1352.8 1383.2,1349.7 1384.1,1354.9 1384.8,1352.6 1385.6,1342.9 1386.2,1346.9 1387.0,1336.4 1387.8,1347.0 1388.5,1347.0 1389.4,1344.7 1390.2,1345.7 1390.9,1347.7 1391.7,1351.9 1392.5,1352.3 1393.2,1349.8 1393.9,1353.1 1394.6,1352.2 1395.5,1365.5 1396.2,1355.8 1396.9,1367.0 1397.6,1354.5 1398.5,1354.7 1399.2,1341.7 1399.9,1340.3 1400.6,1361.5 1401.4,1357.2 1402.2,1356.8 1402.9,1358.3 1403.6,1359.7 1404.4,1360.4 1405.2,1348.5 1406.0,1351.1 1406.6,1366.5 1407.3,1366.6 1408.0,1356.2 1408.8,1361.7 1409.5,1358.3 1410.2,1356.5 1410.9,1361.6 1411.6,1359.1 1412.4,1359.6 1413.1,1362.5 1413.8,1363.8 1414.5,1354.5 1415.2,1361.6 1416.0,1369.9 1416.7,1357.0 1417.5,1367.8 1418.2,1363.9 1419.0,1373.8 1419.8,1351.2 1420.6,1357.9 1421.3,1354.0 1422.0,1358.0 1422.8,1346.7 1423.6,1355.8 1424.3,1355.1 1425.1,1356.3 1425.9,1353.6 1426.6,1352.5 1427.4,1358.3 1428.2,1368.8 1428.9,1368.2 1429.7,1356.2 1430.4,1358.8 1431.1,1350.0 1432.0,1351.0 1432.7,1355.4 1433.4,1345.2 1434.2,1351.0 1434.9,1347.3 1435.8,1360.0 1436.5,1370.1 1437.3,1360.5 1438.1,1358.9 1438.9,1366.8 1439.7,1362.1 1440.4,1360.7 1441.1,1361.4 1441.9,1357.2 1442.6,1360.5 1443.5,1365.6 1444.1,1371.0 1444.8,1360.7 1445.6,1356.3 1446.4,1366.1 1447.0,1370.5 1447.7,1370.2 1448.5,1368.5 1449.3,1360.9 1450.1,1355.3 1450.9,1368.6 1451.7,1357.0 1452.5,1365.4 1453.2,1367.1 1454.0,1358.9 1454.7,1363.7 1455.5,1361.1 1456.4,1364.5 1457.1,1364.0 1457.9,1358.4 1458.5,1350.6 1459.4,1363.5 1460.1,1367.7 1460.7,1355.1 1461.5,1366.1 1462.3,1359.2 1463.1,1364.2 1463.8,1356.9 1464.5,1354.5 1465.3,1359.5 1466.0,1355.1 1466.8,1360.3 1467.5,1360.7 1468.3,1348.5 1468.9,1363.1 1469.7,1355.2 1470.4,1354.6 1471.1,1368.1 1471.9,1366.0 1472.5,1361.5 1473.3,1361.4 1474.1,1364.6 1475.0,1357.8 1475.7,1370.2 1476.5,1373.6 1477.2,1361.8 1477.8,1358.6 1478.5,1370.0 1479.2,1372.5 1480.0,1374.7 1480.7,1363.7 1481.4,1375.3 1482.2,1379.5 1482.9,1365.2 1483.6,1368.8 1484.4,1366.5 1485.1,1363.1 1485.9,1369.9 1486.7,1373.6 1487.5,1364.6 1488.3,1358.0 1489.1,1364.3 1489.7,1366.2 1490.6,1368.8 1491.4,1378.8 1492.1,1373.9 1492.7,1366.8 1493.5,1379.9 1494.3,1384.9 1495.2,1372.4 1495.9,1374.1 1496.6,1361.5 1497.3,1365.7 1498.0,1375.0 1498.7,1369.0 1499.5,1369.1 1500.3,1369.6 1501.1,1367.0 1501.9,1363.0 1502.6,1365.2 1503.3,1371.6 1504.0,1379.1 1504.7,1357.7 1505.6,1378.5 1506.3,1366.1 1507.0,1367.3 1507.6,1372.3 1508.3,1361.7 1509.1,1376.1 1509.8,1368.3 1510.6,1374.9 1511.4,1372.0 1512.0,1367.4 1512.8,1369.8 1513.6,1377.8 1514.2,1354.8 1515.1,1366.3 1515.8,1371.1 1516.7,1382.1 1517.5,1378.0 1518.3,1381.3 1519.1,1371.9 1519.9,1366.8 1520.5,1365.0 1521.2,1377.6 1521.9,1371.5 1522.8,1383.9 1523.4,1378.7 1524.2,1382.5 1525.0,1378.2 1525.6,1372.4 1526.5,1375.0 1527.2,1370.3 1527.8,1367.7 1528.5,1356.5 1529.3,1371.8 1530.0,1371.2 1530.8,1362.5 1531.7,1354.8 1532.5,1352.1 1533.3,1357.7 1534.1,1369.0 1534.8,1376.7 1535.6,1366.1 1536.3,1370.7 1537.1,1369.2 1537.8,1365.7 1538.6,1367.4 1539.3,1372.7 1540.1,1360.4 1540.8,1365.2 1541.7,1365.3 1542.4,1358.6 1543.2,1351.4 1543.9,1355.2 1544.5,1355.7 1545.3,1356.5 1546.1,1358.3 1546.9,1346.0 1547.7,1363.2 1548.5,1350.8 1549.2,1359.3 1550.0,1358.6 1550.7,1357.4 1551.4,1345.9 1552.1,1349.3 1552.9,1354.1 1553.6,1353.3 1554.4,1348.4 1555.0,1345.7 1555.7,1346.4 1556.4,1345.0 1557.1,1349.8 1557.9,1346.4 1558.7,1342.5 1559.5,1345.8 1560.2,1338.5 1561.0,1351.3 1561.8,1351.5 1562.4,1350.6 1563.3,1347.7 1563.9,1345.3 1564.7,1362.3 1565.5,1345.2 1566.2,1351.3 1566.9,1355.7 1567.8,1346.5 1568.5,1352.1 1569.3,1350.8 1570.2,1358.6 1570.9,1354.9 1571.7,1345.7 1572.4,1347.2 1573.1,1348.2 1573.9,1344.9 1574.6,1360.3 1575.3,1344.2 1575.9,1341.5 1576.6,1350.1 1577.3,1352.0 1578.0,1341.8 1578.8,1342.7 1579.6,1342.1 1580.3,1336.3 1581.0,1342.4 1581.7,1335.7 1582.5,1330.1 1583.3,1331.2 1584.2,1329.8 1585.0,1335.3 1585.7,1338.3 1586.4,1325.1 1587.1,1331.4 1587.9,1334.1 1588.6,1331.7 1589.4,1318.6 1590.1,1329.6 1590.9,1315.7 1591.7,1321.5 1592.4,1330.3 1593.1,1324.7 1593.8,1320.4 1594.7,1325.4 1595.4,1316.0 1596.2,1322.2 1597.0,1323.7 1597.8,1321.6 1598.7,1322.8 1599.4,1316.1 1600.2,1320.5 1601.1,1326.8 1601.8,1324.6 1602.6,1327.8 1603.5,1322.4 1604.1,1332.2 1605.0,1330.8 1605.8,1320.8 1606.6,1317.7 1607.4,1310.2 1608.2,1320.5 1608.9,1317.3 1609.8,1311.3 1610.6,1300.0 1611.4,1311.5 1612.1,1306.5 1612.8,1298.5 1613.5,1311.8 1614.2,1322.5 1615.0,1308.9 1615.8,1299.2 1616.4,1297.7 1617.2,1300.4 1617.8,1291.6 1618.5,1299.2 1619.3,1310.9 1620.0,1324.2 1620.8,1325.1 1621.5,1318.1 1622.1,1307.2 1623.0,1311.2 1623.8,1306.3 1624.6,1296.0 1625.4,1294.7 1626.3,1286.9 1627.0,1295.4 1627.8,1301.6 1628.6,1306.0 1629.4,1320.1 1630.2,1320.5 1631.0,1308.9 1631.7,1314.3 1632.4,1329.9 1633.1,1321.2 1633.9,1311.0 1634.8,1295.9 1635.6,1296.8 1636.3,1314.1 1637.1,1313.6 1637.8,1317.5 1638.5,1324.1 1639.2,1324.9 1639.8,1325.1 1640.6,1325.0 1641.4,1345.4 1642.2,1337.1 1642.9,1333.7 1643.7,1321.9 1644.5,1330.4 1645.2,1330.7 1646.0,1328.5 1646.8,1335.3 1647.5,1342.9 1648.2,1343.6 1648.9,1352.4 1649.7,1344.1 1650.3,1336.3 1651.1,1349.9 1651.8,1332.3 1652.6,1322.0 1653.4,1334.6 1654.2,1338.6 1655.0,1336.3 1655.7,1334.2 1656.4,1331.7 1657.2,1346.2 1658.0,1363.6 1658.8,1355.5 1659.5,1366.5 1660.2,1365.9 1661.0,1368.3 1661.7,1366.9 1662.5,1358.9 1663.2,1367.8 1663.9,1372.9 1664.7,1372.5 1665.5,1377.9 1666.2,1394.0 1667.1,1374.7 1667.8,1374.9 1668.6,1375.1 1669.3,1373.9 1670.1,1380.1 1670.9,1388.3 1671.6,1392.4 1672.4,1383.2 1673.1,1387.8 1673.8,1394.4 1674.6,1396.6 1675.3,1401.0 1676.1,1401.2 1676.9,1393.0 1677.6,1400.0 1678.4,1400.0 1679.0,1406.0 1679.7,1402.1 1680.5,1400.5 1681.3,1402.0 1682.0,1413.8 1682.9,1403.1 1683.7,1406.8 1684.5,1410.5 1685.3,1402.0 1686.0,1404.4 1686.7,1406.1 1687.3,1398.3 1688.1,1398.9 1689.0,1401.8 1689.8,1403.0 1690.6,1402.1 1691.5,1412.1 1692.1,1406.5 1693.0,1408.6 1693.7,1415.5 1694.4,1413.4 1695.1,1411.2 1695.9,1411.8 1696.7,1425.3 1697.3,1421.8 1698.2,1422.0 1699.0,1413.0 1699.8,1420.6 1700.4,1424.4 1701.3,1429.7 1702.0,1413.2 1702.6,1413.7 1703.3,1405.4 1704.1,1413.1 1704.8,1405.9 1705.6,1411.6 1706.4,1413.3 1707.2,1416.9 1707.8,1425.5 1708.6,1414.4 1709.4,1421.3 1710.1,1425.9 1711.0,1430.5 1711.7,1422.0 1712.5,1419.1 1713.2,1422.7 1713.9,1428.3 1714.7,1422.5 1715.5,1431.1 1716.2,1430.0 1717.0,1423.6 1717.8,1440.7 1718.5,1432.8 1719.4,1437.6 1720.2,1441.5 1720.9,1435.5 1721.5,1433.8 1722.2,1434.3 1722.9,1435.7 1723.6,1442.3 1724.4,1432.7 1725.2,1437.2 1725.9,1433.6 1726.6,1430.1 1727.3,1437.3 1728.1,1437.0 1728.9,1436.2 1729.6,1443.3 1730.3,1430.7 1731.1,1433.7 1731.8,1438.5 1732.5,1438.5 1733.3,1432.8 1733.9,1427.5 1734.7,1439.8 1735.5,1443.5 1736.3,1435.7 1737.1,1441.9 1737.9,1435.9 1738.7,1436.7 1739.4,1439.0 1740.1,1448.1 1740.9,1446.3 1741.7,1445.0 1742.4,1440.8 1743.1,1446.6 1743.8,1448.2 1744.5,1450.4 1745.3,1446.1 1746.0,1442.0 1746.7,1456.2 1747.5,1453.4 1748.2,1448.7 1749.0,1446.5 1749.8,1441.7 1750.5,1451.3 1751.3,1445.1 1752.0,1447.3 1752.9,1443.8 1753.7,1449.6 1754.5,1440.1 1755.3,1432.2 1756.0,1432.7 1756.8,1440.1 1757.6,1446.5 1758.3,1451.7 1759.1,1447.0 1760.0,1444.6 1760.8,1440.8 1761.7,1440.7 1762.4,1453.8 1763.0,1449.5 1763.7,1447.6 1764.5,1453.1 1765.1,1454.7 1765.9,1447.1 1766.6,1456.6 1767.4,1456.3 1768.2,1450.6 1768.9,1455.7 1769.7,1456.2 1770.5,1450.9 1771.2,1448.9 1771.9,1452.1 1772.7,1459.4 1773.5,1454.0 1774.3,1460.1 1775.1,1462.5 1775.8,1458.6 1776.6,1462.2 1777.3,1460.2 1778.1,1459.6 1778.8,1454.3 1779.6,1464.4 1780.4,1465.2 1781.2,1457.9 1781.9,1457.0 1782.6,1462.4 1783.3,1457.4 1784.0,1460.8 1784.7,1464.5 1785.6,1467.0 1786.3,1460.7 1787.1,1467.4 1787.8,1465.4 1788.5,1464.4 1789.2,1466.2 1789.9,1469.6 1790.6,1463.9 1791.3,1470.5 1792.0,1477.9 1792.6,1472.1 1793.3,1459.9 1794.2,1464.9 1795.0,1464.2 1795.8,1464.1 1796.5,1462.8 1797.3,1460.8 1798.0,1462.1 1798.6,1471.6 1799.3,1455.3 1800.2,1463.6 1801.0,1458.3 1801.8,1465.8 1802.5,1468.5 1803.3,1463.1 1804.1,1463.6 1804.9,1460.5 1805.5,1466.4 1806.2,1470.2 1807.0,1468.7 1807.8,1463.5 1808.5,1465.1 1809.2,1462.5 1810.1,1466.6 1810.8,1474.5 1811.6,1473.6 1812.3,1471.4 1813.0,1473.4 1813.6,1469.5 1814.3,1481.0 1815.0,1473.6 1815.9,1478.6 1816.6,1472.7 1817.3,1477.6 1818.1,1480.0 1818.9,1479.4 1819.7,1469.3 1820.5,1469.6 1821.3,1476.9 1822.1,1478.7 1822.8,1485.5 1823.5,1479.4 1824.4,1486.9 1825.1,1483.4 1826.0,1484.0 1826.7,1480.0 1827.3,1484.1 1828.0,1480.1 1828.6,1481.3 1829.3,1485.0 1830.0,1487.4 1830.7,1486.3 1831.3,1484.7 1832.2,1486.7 1832.9,1489.4 1833.7,1491.2 1834.4,1486.7 1835.1,1491.8 1835.9,1491.8 1836.6,1485.0 1837.4,1491.2 1838.0,1491.8 1838.8,1495.7 1839.6,1488.0 1840.3,1493.3 1841.1,1493.0 1841.9,1491.7 1842.8,1490.0 1843.5,1497.4 1844.2,1489.9 1844.9,1496.7 1845.8,1508.2 1846.6,1496.8 1847.4,1495.9 1848.1,1490.5 1848.8,1492.2 1849.6,1492.9 1850.3,1498.6 1851.0,1491.1 1851.8,1492.0 1852.5,1497.0 1853.2,1488.9 1853.9,1496.3 1854.7,1491.6 1855.5,1487.7 1856.2,1484.7 1856.8,1485.3 1857.7,1496.2 1858.5,1487.1 1859.2,1487.7 1859.9,1494.0 1860.7,1489.5 1861.4,1484.9 1862.1,1491.6 1862.9,1490.5 1863.7,1487.5 1864.5,1482.8 1865.2,1486.9 1865.9,1492.3 1866.7,1485.9 1867.5,1494.1 1868.3,1491.0 1869.0,1495.5 1869.7,1487.0 1870.5,1493.9 1871.3,1497.5 1872.1,1498.3 1872.9,1494.5 1873.6,1496.4 1874.4,1486.3 1875.0,1497.5 1875.8,1493.9 1876.6,1493.8 1877.3,1491.2 1878.0,1485.5 1878.7,1492.0 1879.5,1493.9 1880.1,1491.5 1880.8,1491.1 1881.6,1483.8 1882.4,1487.6 1883.1,1488.2 1883.8,1490.1 1884.5,1488.3 1885.2,1488.1 1886.0,1496.5 1886.8,1489.3 1887.6,1494.6 1888.3,1486.2 1889.1,1493.2 1889.8,1492.2 1890.6,1494.0 1891.4,1483.9 1892.2,1480.1 1892.8,1487.7 1893.5,1491.3 1894.3,1488.4 1894.9,1489.3 1895.7,1487.9 1896.5,1483.1 1897.2,1479.6 1897.9,1493.3 1898.7,1490.6 1899.4,1489.1 1900.1,1486.0 1900.9,1489.3 1901.6,1487.2 1902.4,1485.2 1903.2,1477.8 1903.9,1480.1 1904.7,1488.4 1905.5,1488.4 1906.3,1482.6 1907.0,1487.6 1907.8,1492.9 1908.6,1491.7 1909.4,1485.0 1910.1,1485.4 1910.8,1479.4 1911.5,1482.4 1912.3,1481.6 1913.1,1477.7 1914.0,1480.3 1914.6,1479.6 1915.5,1475.3 1916.2,1478.4 1917.1,1470.4 1917.8,1479.5 1918.4,1474.9 1919.2,1478.0 1919.9,1476.8 1920.6,1478.5 1921.5,1479.5 1922.3,1475.9 1923.0,1473.6 1923.6,1475.7 1924.4,1480.1 1925.1,1479.9 1925.9,1477.6 1926.7,1480.5 1927.5,1474.0 1928.1,1474.8 1929.0,1473.9 1929.7,1476.6 1930.4,1479.4 1931.2,1483.5 1931.9,1480.6 1932.6,1477.4 1933.4,1476.9 1934.2,1480.0 1934.8,1483.8 1935.5,1476.3 1936.3,1473.0 1937.1,1476.8 1937.9,1478.4 1938.5,1476.1 1939.2,1482.3 1940.0,1481.4 1940.8,1490.0 1941.7,1481.6 1942.4,1487.9 1943.2,1480.9 1943.9,1484.8 1944.7,1485.6 1945.5,1483.6 1946.2,1488.4 1947.0,1488.1 1947.9,1486.6 1948.7,1478.4 1949.4,1489.3 1950.1,1489.6 1950.8,1485.5 1951.6,1485.0 1952.4,1486.8 1953.2,1487.5 1953.9,1490.1 1954.6,1489.3 1955.3,1487.3 1956.0,1475.8 1956.8,1484.1 1957.5,1486.5 1958.2,1484.0 1959.0,1486.0 1959.7,1481.7 1960.6,1489.4 1961.4,1490.1 1962.3,1490.9 1963.0,1485.4 1963.7,1484.7 1964.6,1491.0 1965.3,1493.3 1966.0,1480.4 1966.9,1484.8 1967.7,1482.7 1968.5,1487.7 1969.3,1485.8 1970.1,1490.7 1970.8,1489.9 1971.6,1492.8 1972.3,1490.1 1973.0,1488.0 1973.8,1490.4 1974.4,1495.0 1975.1,1492.5 1975.7,1489.4 1976.6,1488.5 1977.3,1493.5 1977.9,1498.6 1978.7,1490.7 1979.5,1491.6 1980.2,1487.1 1980.9,1484.6 1981.6,1486.1 1982.4,1492.3 1983.2,1494.0 1984.1,1482.0 1984.8,1489.8 1985.4,1488.1 1986.2,1495.7 1986.9,1484.3 1987.6,1489.6 1988.4,1484.5 1989.2,1485.2 1990.1,1489.9 1990.7,1488.8 1991.4,1495.3 1992.2,1491.7 1993.0,1491.2 1993.7,1493.0 1994.4,1490.5 1995.2,1488.0 1995.9,1488.0 1996.5,1488.3 1997.4,1484.3 1998.1,1481.9 1998.8,1490.9 1999.5,1480.0 2000.4,1487.6 2001.1,1488.9 2001.8,1488.6 2002.4,1490.1 2003.3,1485.1 2004.1,1486.4 2004.8,1477.0 2005.5,1485.5 2006.1,1486.0 2006.9,1484.1 2007.8,1491.1 2008.6,1478.7 2009.4,1474.7 2010.3,1486.3 2011.0,1481.4 2011.8,1484.9 2012.5,1472.0 2013.3,1479.7 2014.1,1480.7 2014.7,1479.4 2015.5,1482.1 2016.2,1481.1 2017.1,1481.0 2017.9,1486.8 2018.6,1479.7 2019.2,1468.3 2020.1,1472.2 2020.9,1470.2 2021.6,1470.2 2022.3,1469.8 2022.9,1477.7 2023.6,1476.0 2024.3,1472.9 2025.0,1480.9 2025.6,1482.4 2026.3,1480.1 2027.1,1481.0 2027.8,1485.8 2028.5,1490.2 2029.2,1487.1 2029.9,1484.4 2030.8,1480.5 2031.4,1482.6 2032.3,1474.3 2033.0,1479.2 2033.7,1485.7 2034.6,1494.0 2035.3,1488.1 2036.0,1489.3 2036.8,1494.3 2037.5,1493.4 2038.3,1493.9 2038.9,1485.9 2039.8,1496.3 2040.4,1487.3 2041.2,1482.7 2042.0,1486.3 2042.8,1487.9 2043.6,1488.9 2044.3,1488.7 2045.0,1492.7 2045.8,1491.5 2046.6,1497.9 2047.3,1496.7 2048.1,1495.4 2048.8,1490.2 2049.5,1488.6 2050.3,1489.1 2051.0,1498.7 2051.7,1489.6 2052.3,1489.7 2053.2,1497.0 2053.9,1495.9 2054.7,1492.1 2055.4,1496.0 2056.2,1489.1 2057.0,1499.2 2057.7,1499.1 2058.6,1498.7 2059.2,1494.1 2060.0,1495.1 2060.7,1490.7 2061.5,1495.9 2062.3,1490.2 2063.0,1496.6 2063.7,1488.0 2064.4,1488.6 2065.1,1491.5 2065.9,1496.2 2066.6,1490.9 2067.4,1492.9 2068.1,1494.2 2068.8,1482.4 2069.5,1487.9 2070.2,1490.9 2071.0,1490.4 2071.6,1486.0 2072.3,1487.4 2073.0,1485.4 2073.7,1483.2 2074.5,1483.8 2075.2,1485.3 2076.0,1489.6 2076.7,1485.4 2077.4,1480.4 2078.2,1481.8 2078.8,1480.6 2079.6,1479.3 2080.4,1474.4 2081.2,1472.3 2081.9,1480.8 2082.6,1486.8 2083.3,1481.5 2084.0,1481.1 2084.8,1485.7 2085.6,1495.1 2086.3,1485.4 2087.1,1488.8 2087.8,1490.8 2088.4,1487.7 2089.3,1493.9 2090.1,1487.7 2090.9,1495.7 2091.7,1493.5 2092.5,1490.1 2093.1,1490.0 2093.9,1489.2 2094.5,1496.0 2095.4,1486.5 2096.0,1488.6 2096.8,1494.8 2097.6,1495.6 2098.3,1503.5 2099.0,1491.9 2099.8,1496.0 2100.5,1498.6 2101.3,1493.4 2102.2,1492.3 2103.0,1489.5 2103.8,1490.8 2104.4,1489.1 2105.1,1493.9 2105.8,1489.3 2106.5,1495.8 2107.2,1498.6 2108.0,1490.5 2108.7,1495.2 2109.4,1493.1 2110.1,1492.9 2110.8,1494.9 2111.5,1495.2 2112.2,1492.6 2112.9,1491.8 2113.6,1488.0 2114.3,1492.0 2115.0,1488.3 2115.8,1486.6 2116.7,1483.7 2117.4,1489.9 2118.1,1490.6 2118.8,1496.7 2119.4,1493.8 2120.1,1485.9 2120.9,1492.4 2121.7,1492.6 2122.5,1488.7 2123.2,1494.0 2123.9,1494.1 2124.5,1494.0 2125.4,1494.2 2126.2,1487.4 2127.0,1496.2 2127.8,1494.1 2128.5,1487.7 2129.1,1494.8 2129.9,1492.1 2130.6,1490.6 2131.4,1494.8 2132.2,1496.8 2133.0,1492.1 2133.6,1484.5 2134.4,1491.2 2135.1,1493.5 2135.8,1491.0 2136.7,1490.6 2137.4,1487.6 2138.2,1486.1 2138.9,1492.3 2139.6,1489.3 2140.3,1488.2 2141.1,1486.7 2141.8,1485.0 2142.7,1490.1 2143.3,1490.3 2144.0,1511.5 2144.7,1488.0 2145.4,1486.6 2146.2,1498.8 2146.8,1497.8 2147.7,1492.4 2148.5,1487.2 2149.2,1496.0 2150.1,1489.8 2150.9,1492.1 2151.6,1495.0 2152.4,1499.1 2153.2,1494.5 2154.0,1493.9 2154.7,1494.1 2155.3,1496.7 2156.0,1497.0 2156.7,1495.2 2157.4,1494.6 2158.3,1497.4 2158.9,1500.0 2159.7,1498.8 2160.4,1503.3 2161.1,1500.5 2161.8,1500.6 2162.4,1504.7 2163.2,1506.3 2163.9,1508.6 2164.7,1505.9 2165.5,1510.0 2166.1,1507.1 2166.8,1508.6 2167.6,1508.6 2168.2,1506.6 2169.0,1508.5 2169.8,1507.8 2170.5,1508.7 2171.3,1508.4 2171.9,1509.8 2172.7,1509.7 2173.4,1508.4 2174.2,1509.8 2175.0,1510.0 2175.6,1510.4 2176.3,1510.5 2177.1,1511.5 2177.8,1511.5 2178.5,1511.5 2179.2,1510.4 2179.8,1510.8 2180.6,1511.5 2181.2,1510.9 2182.0,1511.5 2182.7,1511.1 2183.4,1510.4 2184.0,1511.0" stroke="#0000ff" stroke-width="4.3"/>
<polyline points="423.0,1511.5 423.7,1509.9 424.3,1510.4 425.1,1510.6 425.8,1509.0 426.4,1510.2 427.2,1510.9 427.9,1509.3 428.6,1508.8 429.3,1509.6 430.0,1510.3 430.7,1510.8 431.5,1510.0 432.2,1510.3 432.9,1510.5 433.6,1508.5 434.4,1511.5 435.2,1511.5 436.0,1511.2 436.9,1510.4 437.6,1510.4 438.3,1511.5 439.0,1510.1 439.8,1510.2 440.5,1509.2 441.3,1509.7 442.2,1509.7 442.9,1510.2 443.7,1511.1 444.5,1510.7 445.1,1509.3 445.9,1509.1 446.5,1508.9 447.4,1510.3 448.1,1509.9 448.9,1509.7 449.6,1509.6 450.5,1510.7 451.2,1509.7 452.0,1509.4 452.7,1508.6 453.4,1509.9 454.1,1510.0 454.8,1509.7 455.5,1510.5 456.2,1511.5 457.0,1510.6 457.9,1511.5 458.7,1510.4 459.4,1511.4 460.1,1511.5 460.9,1509.1 461.7,1510.5 462.4,1510.5 463.1,1509.6 463.9,1510.7 464.7,1510.2 465.5,1511.5 466.2,1511.2 467.0,1510.2 467.6,1509.9 468.4,1510.7 469.1,1509.8 469.7,1510.6 470.5,1509.6 471.3,1511.4 472.0,1510.9 472.7,1511.2 473.5,1510.1 474.1,1509.9 474.9,1509.2 475.6,1510.8 476.4,1510.3 477.1,1508.7 477.8,1508.7 478.5,1510.1 479.3,1510.6 480.1,1510.1 481.0,1511.5 481.6,1511.2 482.4,1509.6 483.3,1508.9 484.1,1509.9 484.7,1510.2 485.4,1510.2 486.2,1509.1 487.0,1511.1 487.8,1508.3 488.6,1510.6 489.4,1510.6 490.2,1510.6 491.0,1509.5 491.9,1508.9 492.7,1510.5 493.5,1511.0 494.3,1511.2 495.0,1507.6 495.7,1509.7 496.4,1510.8 497.1,1507.8 497.9,1510.4 498.7,1509.9 499.4,1510.1 500.1,1511.1 500.9,1509.2 501.7,1510.9 502.3,1511.4 503.0,1510.3 503.9,1511.5 504.5,1510.1 505.4,1509.3 506.2,1508.7 507.0,1509.3 507.7,1509.9 508.4,1511.5 509.2,1510.4 509.9,1511.3 510.6,1511.5 511.3,1511.5 512.2,1511.3 513.0,1510.3 513.7,1510.4 514.4,1510.5 515.1,1511.1 515.8,1511.5 516.6,1510.5 517.4,1511.3 518.2,1510.2 519.0,1509.9 519.7,1509.9 520.5,1511.5 521.2,1511.5 521.9,1511.5 522.7,1508.9 523.4,1509.3 524.2,1510.2 524.9,1511.3 525.7,1511.3 526.4,1509.8 527.1,1510.4 527.7,1509.5 528.4,1507.6 529.1,1509.1 529.7,1510.6 530.4,1510.9 531.1,1510.6 531.9,1509.0 532.5,1511.5 533.3,1507.8 534.0,1508.6 534.8,1511.2 535.6,1511.5 536.3,1511.0 537.0,1511.5 537.8,1510.7 538.4,1511.1 539.2,1511.0 540.0,1510.6 540.7,1509.9 541.4,1511.5 542.0,1510.8 542.7,1510.2 543.3,1509.0 544.0,1511.5 544.9,1511.5 545.6,1509.8 546.3,1507.7 547.0,1509.6 547.8,1510.6 548.5,1508.7 549.3,1508.9 550.2,1509.5 550.8,1508.9 551.6,1510.4 552.4,1510.5 553.2,1510.7 553.9,1510.0 554.7,1510.8 555.4,1509.8 556.0,1509.9 556.8,1509.6 557.5,1510.4 558.4,1510.3 559.2,1511.5 559.9,1510.4 560.7,1510.0 561.5,1510.5 562.3,1510.3 563.0,1509.7 563.8,1511.3 564.6,1509.9 565.5,1509.9 566.1,1509.7 566.9,1508.9 567.6,1509.5 568.4,1507.8 569.2,1507.4 569.9,1510.6 570.8,1510.0 571.6,1508.4 572.4,1509.2 573.1,1508.7 573.8,1509.9 574.6,1509.7 575.4,1508.7 576.1,1507.8 576.9,1508.0 577.6,1507.5 578.3,1508.8 579.1,1507.7 579.8,1507.9 580.6,1508.2 581.4,1507.1 582.2,1509.7 582.9,1508.2 583.6,1508.9 584.4,1505.8 585.2,1506.8 585.8,1506.0 586.6,1507.0 587.2,1503.4 588.1,1505.4 588.9,1504.6 589.6,1503.8 590.4,1503.8 591.1,1504.0 591.9,1503.3 592.6,1502.8 593.3,1502.0 594.0,1500.8 594.8,1500.6 595.5,1500.0 596.3,1500.8 597.1,1500.5 597.9,1501.7 598.7,1498.9 599.4,1495.7 600.2,1496.0 600.8,1497.3 601.5,1496.5 602.3,1491.8 603.0,1493.7 603.8,1491.6 604.5,1491.2 605.4,1491.0 606.1,1488.8 607.0,1487.4 607.6,1486.6 608.4,1484.5 609.1,1486.0 609.9,1479.2 610.7,1483.9 611.5,1482.3 612.3,1480.0 612.9,1482.3 613.7,1478.7 614.5,1478.1 615.2,1480.2 615.9,1477.5 616.7,1475.4 617.5,1472.1 618.2,1469.0 618.9,1470.3 619.7,1468.9 620.4,1469.0 621.1,1464.6 621.7,1462.2 622.6,1462.3 623.2,1461.6 624.0,1458.2 624.7,1453.2 625.4,1453.7 626.2,1453.3 626.9,1451.1 627.6,1451.6 628.3,1448.2 629.1,1446.1 629.8,1444.6 630.6,1445.0 631.3,1441.4 631.9,1442.1 632.8,1442.3 633.5,1438.7 634.3,1438.2 635.1,1434.8 635.9,1430.7 636.5,1433.3 637.3,1432.0 638.1,1430.9 638.8,1428.8 639.5,1427.5 640.3,1420.8 641.0,1419.1 641.6,1421.0 642.4,1423.4 643.1,1417.5 644.0,1412.1 644.6,1414.5 645.5,1411.4 646.2,1408.9 647.0,1410.1 647.6,1407.0 648.3,1406.3 649.1,1405.4 649.9,1398.4 650.6,1394.8 651.3,1400.1 652.0,1396.6 652.7,1390.6 653.4,1389.1 654.2,1387.5 654.9,1389.7 655.6,1382.1 656.3,1380.7 657.1,1379.5 657.9,1374.9 658.7,1372.0 659.4,1368.4 660.1,1369.5 661.0,1362.7 661.8,1359.9 662.5,1368.1 663.2,1369.5 664.0,1359.4 664.8,1361.8 665.6,1362.0 666.3,1355.5 667.1,1356.1 667.7,1355.5 668.5,1356.0 669.3,1352.3 670.1,1348.5 670.9,1345.2 671.7,1341.8 672.5,1341.8 673.1,1338.5 674.0,1346.1 674.8,1336.7 675.6,1337.8 676.3,1347.2 677.1,1341.8 677.9,1337.6 678.6,1338.0 679.3,1344.5 680.1,1340.4 680.8,1335.7 681.5,1333.3 682.3,1330.7 683.1,1326.2 683.9,1323.8 684.6,1317.5 685.4,1317.1 686.2,1318.5 686.9,1313.0 687.5,1305.8 688.4,1298.5 689.1,1299.9 690.0,1293.7 690.8,1295.0 691.6,1288.8 692.3,1290.5 693.1,1286.6 693.9,1288.6 694.6,1284.3 695.2,1281.4 695.9,1279.9 696.6,1277.3 697.2,1279.3 697.9,1277.7 698.6,1271.5 699.3,1278.6 699.9,1270.3 700.7,1271.6 701.5,1272.3 702.3,1269.8 703.0,1266.6 703.8,1262.3 704.5,1256.6 705.2,1260.7 705.9,1255.3 706.6,1251.3 707.4,1247.3 708.1,1243.8 708.8,1245.8 709.5,1242.2 710.3,1244.0 711.0,1251.8 711.8,1238.1 712.6,1228.7 713.3,1231.1 714.0,1228.9 714.9,1224.6 715.5,1214.2 716.3,1212.9 717.0,1213.0 717.8,1201.8 718.5,1198.7 719.3,1186.5 720.1,1188.1 720.8,1186.2 721.6,1194.3 722.3,1194.0 723.0,1187.2 723.7,1190.6 724.3,1190.8 725.1,1192.9 725.8,1198.8 726.6,1190.0 727.4,1175.8 728.1,1162.0 728.8,1163.2 729.6,1160.2 730.5,1148.3 731.3,1148.6 732.0,1147.0 732.9,1141.1 733.6,1152.4 734.5,1158.3 735.2,1147.7 736.0,1142.9 736.7,1137.9 737.4,1142.7 738.2,1140.7 739.0,1138.9 739.7,1146.2 740.4,1136.5 741.2,1133.5 741.9,1118.7 742.8,1113.7 743.4,1118.1 744.1,1115.2 744.8,1108.6 745.5,1106.1 746.4,1109.7 747.0,1106.8 747.8,1118.5 748.5,1119.6 749.3,1108.1 750.0,1106.6 750.8,1111.7 751.5,1089.4 752.2,1096.1 752.9,1089.0 753.7,1088.2 754.4,1088.0 755.3,1079.9 756.0,1070.4 756.7,1076.0 757.4,1071.0 758.3,1063.9 759.1,1059.7 759.7,1067.6 760.5,1045.4 761.3,1046.9 762.0,1049.6 762.8,1047.9 763.6,1033.5 764.2,1028.1 764.9,1018.9 765.8,990.4 766.6,971.6 767.4,979.3 768.2,956.2 769.0,956.8 769.7,943.3 770.4,938.1 771.2,922.4 772.1,935.0 772.8,933.6 773.4,938.3 774.3,927.5 775.0,928.1 775.7,939.4 776.4,946.8 777.1,935.8 777.9,958.1 778.6,974.6 779.3,964.4 780.1,954.0 780.9,949.7 781.7,944.3 782.4,943.1 783.1,940.1 783.8,937.5 784.5,955.1 785.3,955.3 786.0,953.7 786.7,954.6 787.5,951.6 788.3,957.3 788.9,964.0 789.6,942.6 790.4,952.6 791.1,959.3 791.9,955.0 792.6,950.9 793.3,959.5 794.0,954.0 794.7,961.8 795.4,962.4 796.1,951.0 796.9,953.1 797.6,944.7 798.4,913.0 799.2,925.4 799.9,953.4 800.6,937.8 801.3,939.5 802.0,927.3 802.7,945.0 803.4,938.0 804.1,935.4 804.9,928.1 805.6,925.0 806.4,920.1 807.3,910.7 808.0,913.9 808.6,915.8 809.3,908.9 810.0,894.5 810.6,896.7 811.4,903.8 812.1,900.3 812.9,909.4 813.7,903.5 814.4,915.0 815.2,923.0 816.0,937.0 816.6,927.6 817.5,918.0 818.2,927.9 818.8,923.4 819.6,936.3 820.3,933.3 821.0,937.6 821.7,923.0 822.5,925.4 823.3,919.0 824.0,914.4 824.7,923.5 825.4,900.0 826.1,899.9 826.9,881.0 827.5,877.7 828.3,852.3 828.9,850.9 829.7,845.8 830.5,827.2 831.3,827.8 832.1,826.9 832.7,827.2 833.5,832.8 834.3,825.7 835.0,818.8 835.6,815.9 836.5,809.8 837.2,813.5 838.0,806.0 838.7,789.2 839.5,791.8 840.1,799.4 840.9,797.5 841.8,794.8 842.4,796.0 843.2,788.0 843.9,789.1 844.8,784.8 845.4,793.6 846.1,796.2 846.7,790.6 847.5,800.5 848.3,800.1 849.1,800.0 849.9,807.4 850.6,793.7 851.2,798.2 852.1,788.3 852.8,783.7 853.6,774.7 854.4,781.8 855.2,778.0 855.9,754.9 856.6,757.5 857.3,739.2 858.1,731.3 858.8,723.0 859.6,721.4 860.2,719.3 860.9,724.1 861.6,710.5 862.4,704.0 863.2,704.7 864.0,696.9 864.8,713.2 865.6,712.2 866.4,715.3 867.2,708.3 867.9,720.8 868.7,724.8 869.5,729.6 870.3,733.8 871.1,734.8 871.7,751.9 872.4,747.5 873.2,756.5 873.8,753.3 874.6,750.3 875.3,746.9 876.1,758.4 876.9,755.2 877.8,747.8 878.6,756.9 879.3,745.8 880.1,758.4 880.9,753.6 881.6,756.5 882.5,757.9 883.2,734.5 884.0,741.5 884.7,732.8 885.4,723.0 886.2,717.4 887.1,713.6 887.9,704.3 888.6,713.4 889.3,713.1 890.1,726.9 890.8,728.2 891.6,733.0 892.3,736.9 893.0,746.4 893.7,744.0 894.4,750.6 895.1,739.1 895.9,735.1 896.6,733.9 897.3,735.8 898.2,743.5 898.9,728.7 899.6,715.2 900.3,716.2 901.1,720.8 901.9,726.3 902.5,723.7 903.3,725.1 904.0,740.5 904.6,745.2 905.4,760.7 906.3,761.5 906.9,751.9 907.6,748.3 908.3,760.4 909.1,755.0 909.9,745.4 910.6,752.9 911.5,781.4 912.2,790.1 913.0,757.0 913.9,787.0 914.5,758.6 915.3,751.8 916.0,744.3 916.8,727.2 917.5,732.0 918.3,722.0 919.1,728.0 919.9,712.9 920.5,712.4 921.3,708.0 922.1,698.8 922.9,708.7 923.6,704.2 924.3,693.4 925.1,701.6 925.9,721.1 926.6,696.9 927.3,698.4 928.2,695.6 928.9,697.7 929.6,695.2 930.3,684.8 931.2,689.6 932.0,679.6 932.7,691.9 933.5,680.6 934.2,701.3 934.8,704.3 935.6,694.8 936.3,693.2 937.1,705.4 937.8,701.7 938.5,696.1 939.3,697.7 940.1,699.7 940.9,701.0 941.8,685.9 942.5,673.1 943.3,639.0 944.1,638.9 944.8,640.6 945.5,630.9 946.2,623.3 947.1,610.1 947.7,624.0 948.5,605.9 949.3,593.9 950.0,595.5 950.7,593.6 951.3,595.9 952.0,591.2 952.9,598.8 953.6,619.3 954.2,612.8 954.9,643.5 955.6,630.1 956.3,638.5 957.2,638.3 957.8,634.2 958.7,633.4 959.3,624.4 960.0,603.1 960.7,596.1 961.5,575.2 962.2,563.8 963.0,548.9 963.8,528.5 964.6,506.7 965.4,495.4 966.0,483.0 966.8,462.3 967.6,461.8 968.4,447.9 969.1,451.3 969.9,445.6 970.6,462.8 971.3,460.9 972.1,459.4 972.9,468.2 973.6,485.4 974.3,488.2 975.2,481.0 975.9,496.7 976.8,495.2 977.6,509.9 978.3,495.1 979.0,511.3 979.8,523.8 980.5,519.0 981.2,506.0 981.9,497.3 982.6,498.7 983.3,502.2 984.1,491.0 984.7,480.0 985.4,480.5 986.0,496.7 986.9,473.0 987.5,473.3 988.2,471.6 988.9,479.5 989.5,459.9 990.2,460.6 990.9,468.9 991.6,463.2 992.3,455.6 993.1,461.0 993.9,449.1 994.5,461.2 995.2,459.9 996.0,459.7 996.8,467.5 997.5,478.9 998.2,491.1 999.0,500.0 999.8,514.0 1000.6,512.0 1001.3,525.6 1002.0,534.7 1002.7,544.2 1003.5,540.7 1004.1,560.5 1004.9,567.2 1005.7,565.4 1006.5,557.0 1007.3,567.4 1008.2,583.8 1008.9,589.5 1009.7,588.0 1010.5,590.2 1011.3,584.7 1012.1,569.4 1012.8,603.3 1013.6,578.8 1014.4,561.3 1015.0,551.8 1015.8,551.9 1016.5,555.0 1017.2,540.7 1017.8,523.6 1018.7,505.9 1019.4,489.4 1020.2,483.5 1021.0,454.3 1021.6,432.1 1022.3,430.7 1023.0,411.0 1023.8,386.1 1024.5,382.2 1025.2,381.2 1026.0,372.6 1026.8,385.1 1027.6,394.1 1028.4,409.3 1029.1,430.5 1030.0,439.5 1030.7,436.3 1031.4,456.8 1032.2,481.2 1033.1,493.4 1033.8,494.4 1034.6,505.9 1035.4,494.6 1036.1,516.4 1036.8,507.6 1037.5,518.7 1038.4,521.3 1039.0,536.2 1039.9,555.3 1040.6,538.1 1041.4,553.5 1042.1,534.7 1042.8,526.8 1043.5,522.9 1044.2,524.7 1045.0,554.9 1045.7,569.3 1046.4,565.3 1047.2,575.1 1048.0,587.2 1048.7,591.2 1049.5,565.9 1050.2,573.5 1050.8,568.6 1051.6,581.6 1052.4,584.3 1053.2,574.0 1053.9,560.8 1054.6,547.0 1055.3,548.5 1056.1,551.0 1056.8,533.6 1057.6,537.3 1058.5,535.7 1059.1,537.6 1060.0,530.6 1060.7,533.0 1061.3,526.1 1062.0,533.2 1062.8,528.2 1063.6,511.5 1064.3,499.2 1065.1,495.9 1065.9,480.7 1066.6,481.1 1067.3,494.7 1068.1,510.2 1068.8,498.5 1069.5,502.9 1070.3,526.6 1071.1,519.3 1071.7,520.6 1072.5,534.3 1073.2,510.5 1074.1,488.1 1074.7,460.7 1075.5,441.7 1076.2,447.4 1076.9,429.4 1077.5,428.5 1078.2,443.2 1078.9,453.3 1079.7,449.5 1080.4,450.2 1081.2,481.7 1081.9,510.3 1082.8,543.8 1083.5,550.2 1084.3,565.2 1085.1,572.1 1085.8,545.2 1086.5,543.9 1087.3,531.2 1088.0,516.5 1088.8,519.8 1089.6,536.3 1090.3,544.0 1091.0,568.8 1091.7,562.0 1092.5,582.6 1093.2,600.0 1094.0,592.9 1094.8,583.9 1095.6,547.6 1096.2,532.1 1097.0,533.1 1097.8,552.9 1098.4,565.9 1099.2,567.0 1099.9,575.7 1100.7,564.0 1101.5,551.8 1102.2,539.9 1103.0,527.5 1103.7,535.1 1104.4,541.2 1105.2,591.5 1106.0,616.9 1106.7,640.6 1107.5,659.2 1108.2,643.4 1108.8,618.3 1109.6,590.9 1110.2,570.9 1111.0,563.2 1111.6,583.5 1112.3,602.8 1113.1,599.5 1113.9,610.4 1114.6,582.0 1115.3,577.1 1116.0,551.2 1116.8,531.9 1117.6,575.9 1118.5,607.5 1119.2,648.0 1119.8,680.5 1120.7,673.5 1121.5,643.9 1122.2,621.5 1123.0,601.7 1123.7,598.8 1124.3,575.3 1125.1,589.8 1125.9,603.8 1126.5,617.1 1127.2,633.2 1128.1,643.2 1128.9,653.6 1129.5,621.7 1130.4,610.7 1131.2,576.1 1131.9,583.8 1132.6,566.8 1133.4,584.1 1134.2,627.2 1135.1,652.6 1135.8,628.2 1136.6,599.3 1137.4,580.5 1138.2,576.7 1139.0,581.4 1139.8,586.7 1140.5,606.8 1141.3,602.3 1142.0,615.2 1142.7,551.6 1143.5,482.9 1144.2,488.1 1145.0,479.4 1145.7,466.1 1146.5,487.9 1147.3,473.0 1148.0,472.4 1148.7,487.4 1149.5,511.3 1150.2,502.9 1150.9,487.0 1151.7,455.2 1152.4,503.3 1153.2,538.9 1154.0,570.4 1154.7,580.5 1155.4,617.6 1156.1,637.4 1156.8,652.5 1157.6,650.7 1158.4,639.3 1159.2,624.1 1159.9,616.1 1160.6,594.5 1161.2,568.5 1162.0,577.3 1162.7,581.8 1163.5,559.8 1164.4,554.6 1165.1,548.5 1165.8,527.0 1166.5,507.6 1167.2,480.5 1167.9,455.9 1168.7,433.7 1169.5,408.7 1170.2,406.8 1171.0,419.8 1171.8,417.6 1172.6,502.9 1173.3,554.8 1174.0,600.2 1174.9,627.9 1175.7,637.8 1176.4,672.8 1177.3,702.9 1177.9,605.6 1178.6,629.7 1179.5,614.6 1180.2,688.3 1181.0,765.3 1181.8,659.0 1182.6,709.8 1183.3,764.6 1184.2,742.6 1185.0,703.0 1185.8,729.2 1186.6,824.2 1187.3,744.7 1188.1,781.2 1188.7,809.2 1189.5,821.0 1190.2,788.0 1190.9,775.4 1191.7,767.6 1192.4,790.2 1193.1,820.1 1193.9,801.8 1194.7,654.3 1195.5,810.5 1196.3,719.8 1197.0,806.9 1197.9,852.9 1198.5,840.5 1199.3,827.5 1200.1,875.6 1200.8,908.6 1201.5,819.0 1202.2,839.9 1203.0,877.7 1203.6,865.9 1204.4,812.4 1205.1,885.4 1205.8,934.3 1206.7,967.8 1207.5,904.9 1208.3,896.4 1209.0,903.5 1209.7,944.3 1210.6,947.9 1211.3,895.7 1212.0,913.2 1212.7,913.6 1213.5,931.8 1214.1,946.5 1214.9,913.6 1215.5,881.3 1216.4,852.9 1217.2,921.3 1218.0,938.0 1218.7,916.0 1219.3,914.6 1220.2,903.1 1221.0,923.5 1221.8,905.0 1222.4,879.7 1223.1,914.9 1223.9,904.9 1224.7,955.5 1225.5,974.5 1226.2,958.3 1227.0,969.1 1227.9,948.8 1228.6,1050.3 1229.4,908.3 1230.2,949.5 1231.0,933.5 1231.6,934.4 1232.4,903.9 1233.1,970.3 1233.8,967.1 1234.6,982.7 1235.3,971.5 1235.9,1019.5 1236.8,927.1 1237.5,982.3 1238.2,998.9 1238.9,1023.9 1239.7,970.9 1240.5,1009.4 1241.2,968.6 1242.0,1026.5 1242.7,1032.7 1243.3,1045.2 1244.0,1041.8 1244.8,1020.0 1245.6,1015.3 1246.5,988.3 1247.2,1061.0 1247.9,1055.6 1248.6,1085.7 1249.4,1114.7 1250.1,1066.6 1250.8,1036.7 1251.7,1040.0 1252.4,1045.1 1253.2,1017.9 1253.9,1046.5 1254.7,1100.5 1255.5,1069.3 1256.3,1021.7 1257.0,1068.4 1257.8,1049.6 1258.5,1038.2 1259.3,1044.6 1260.0,1001.0 1260.8,1041.4 1261.5,1101.2 1262.4,1084.0 1263.1,1030.5 1263.8,1037.7 1264.7,1044.9 1265.4,1060.5 1266.1,1081.7 1266.9,1087.2 1267.5,1055.3 1268.3,1030.7 1268.9,1052.2 1269.7,1025.6 1270.4,1079.5 1271.3,1040.9 1272.1,1024.2 1272.8,1068.2 1273.6,1061.0 1274.4,1024.0 1275.3,1084.0 1276.1,1081.3 1276.8,1024.5 1277.6,1031.9 1278.3,1027.3 1279.0,1057.6 1279.7,1059.1 1280.6,1022.8 1281.3,1038.9 1282.1,1041.3 1282.9,1047.2 1283.6,1070.7 1284.3,1098.7 1285.1,1059.5 1285.8,1159.3 1286.5,1118.2 1287.3,1101.0 1288.0,1034.0 1288.7,1072.9 1289.5,1127.1 1290.3,1087.0 1291.0,1076.9 1291.7,1181.7 1292.4,1118.8 1293.2,1107.7 1294.1,1059.3 1294.7,1075.4 1295.5,1135.9 1296.3,1078.2 1297.1,1081.9 1297.8,1093.4 1298.6,1077.1 1299.3,1068.0 1300.1,1140.9 1300.9,1110.9 1301.7,1100.6 1302.4,1117.7 1303.3,1115.9 1304.1,1125.4 1304.9,1088.9 1305.6,1073.7 1306.3,1147.0 1307.1,1128.8 1307.8,1127.5 1308.5,1108.5 1309.2,1103.9 1309.9,1094.2 1310.8,1138.8 1311.5,1096.6 1312.4,1119.1 1313.2,1079.0 1313.8,1099.2 1314.5,1085.3 1315.2,1131.4 1316.0,1153.9 1316.7,1119.3 1317.5,1077.2 1318.3,1133.8 1319.1,1119.9 1319.8,1121.3 1320.5,1140.2 1321.3,1137.1 1322.1,1132.4 1322.8,1200.7 1323.5,1175.0 1324.2,1130.8 1324.8,1148.6 1325.6,1156.9 1326.3,1107.2 1327.2,1124.3 1327.9,1109.0 1328.5,1157.8 1329.4,1165.1 1330.1,1150.3 1330.9,1201.3 1331.6,1134.1 1332.3,1176.9 1333.1,1112.9 1333.9,1109.7 1334.7,1126.9 1335.5,1158.6 1336.2,1130.5 1337.0,1130.0 1337.8,1150.7 1338.5,1157.6 1339.3,1136.0 1340.0,1172.0 1340.8,1178.9 1341.5,1162.3 1342.3,1153.3 1343.1,1137.1 1343.8,1147.7 1344.6,1168.8 1345.3,1185.7 1346.1,1147.4 1346.9,1158.6 1347.7,1176.4 1348.5,1158.5 1349.3,1140.5 1350.1,1162.8 1350.9,1140.2 1351.8,1143.2 1352.5,1153.0 1353.3,1141.5 1354.1,1136.2 1354.9,1130.5 1355.7,1138.8 1356.3,1136.3 1357.1,1162.5 1357.8,1178.4 1358.5,1150.8 1359.2,1167.6 1360.1,1158.2 1360.8,1176.4 1361.6,1184.3 1362.3,1185.0 1363.0,1178.6 1363.7,1154.6 1364.5,1162.5 1365.2,1201.6 1365.9,1163.7 1366.8,1187.3 1367.6,1189.6 1368.4,1181.3 1369.2,1201.1 1369.9,1164.1 1370.5,1211.4 1371.3,1199.0 1372.0,1168.3 1372.9,1188.1 1373.7,1179.5 1374.4,1203.9 1375.0,1198.3 1375.7,1186.3 1376.4,1203.4 1377.1,1183.2 1377.8,1196.7 1378.5,1216.8 1379.3,1222.5 1380.2,1232.2 1381.0,1215.0 1381.8,1177.6 1382.5,1172.3 1383.3,1216.3 1384.0,1251.9 1384.8,1225.8 1385.7,1249.1 1386.4,1222.7 1387.1,1223.2 1387.8,1237.7 1388.6,1216.0 1389.4,1235.4 1390.1,1249.7 1390.9,1265.3 1391.7,1265.0 1392.4,1243.2 1393.2,1251.7 1394.0,1281.2 1394.7,1286.1 1395.4,1248.0 1396.2,1274.3 1396.9,1273.1 1397.7,1249.0 1398.5,1265.3 1399.3,1249.0 1400.1,1265.5 1400.9,1263.2 1401.6,1264.0 1402.5,1290.2 1403.2,1307.0 1403.9,1267.2 1404.6,1243.0 1405.3,1259.5 1406.1,1277.0 1406.9,1256.0 1407.7,1262.8 1408.6,1245.8 1409.3,1256.3 1410.0,1253.0 1410.8,1271.4 1411.6,1250.8 1412.3,1231.9 1413.0,1234.6 1413.7,1260.8 1414.5,1259.9 1415.3,1220.4 1416.0,1239.5 1416.8,1249.7 1417.6,1226.0 1418.3,1242.8 1418.9,1267.6 1419.6,1250.2 1420.4,1247.5 1421.1,1249.3 1421.8,1235.4 1422.6,1234.0 1423.3,1237.8 1424.2,1241.3 1425.0,1231.2 1425.7,1239.1 1426.4,1270.3 1427.3,1257.6 1427.9,1284.3 1428.7,1256.4 1429.4,1251.0 1430.2,1248.0 1431.0,1241.2 1431.8,1232.2 1432.5,1249.2 1433.2,1257.1 1433.9,1236.2 1434.6,1236.1 1435.2,1263.6 1436.0,1228.9 1436.7,1208.4 1437.5,1251.8 1438.2,1249.6 1439.1,1249.7 1439.8,1230.7 1440.7,1237.4 1441.5,1250.9 1442.3,1241.7 1443.1,1230.8 1443.8,1243.3 1444.6,1233.7 1445.3,1224.8 1446.1,1251.6 1446.9,1229.5 1447.7,1247.3 1448.5,1218.2 1449.3,1207.1 1450.1,1206.7 1450.8,1253.1 1451.6,1240.6 1452.5,1253.2 1453.3,1249.9 1454.1,1268.3 1454.8,1232.0 1455.6,1245.9 1456.4,1237.9 1457.2,1232.8 1457.8,1231.9 1458.7,1262.6 1459.4,1226.9 1460.2,1254.5 1460.9,1242.0 1461.7,1205.2 1462.5,1215.8 1463.4,1180.9 1464.2,1212.5 1465.0,1219.4 1465.7,1229.1 1466.4,1223.8 1467.1,1242.2 1468.0,1226.2 1468.7,1237.5 1469.4,1226.2 1470.2,1229.5 1471.0,1221.2 1471.8,1227.5 1472.7,1248.1 1473.4,1232.3 1474.2,1214.2 1474.9,1211.6 1475.6,1189.0 1476.5,1209.1 1477.1,1229.6 1478.0,1229.5 1478.6,1212.7 1479.3,1237.8 1480.0,1249.2 1480.7,1252.1 1481.4,1249.7 1482.0,1236.2 1482.8,1211.5 1483.5,1208.1 1484.4,1246.7 1485.0,1258.4 1485.8,1247.5 1486.6,1217.9 1487.5,1218.4 1488.1,1235.5 1488.9,1214.1 1489.7,1224.2 1490.4,1213.6 1491.2,1236.4 1492.0,1254.4 1492.7,1232.1 1493.4,1246.8 1494.2,1233.8 1494.9,1215.2 1495.7,1199.4 1496.3,1213.5 1497.1,1229.3 1497.9,1229.9 1498.7,1233.1 1499.4,1230.5 1500.1,1215.0 1500.8,1210.2 1501.7,1238.1 1502.5,1214.7 1503.3,1210.2 1504.0,1210.0 1504.7,1217.2 1505.4,1206.1 1506.3,1190.7 1507.0,1221.3 1507.8,1228.3 1508.4,1214.5 1509.2,1215.0 1509.9,1229.1 1510.7,1208.4 1511.5,1249.5 1512.2,1203.5 1513.1,1211.8 1513.8,1202.3 1514.5,1212.0 1515.3,1203.6 1516.0,1197.7 1516.7,1195.0 1517.6,1189.7 1518.3,1220.7 1519.0,1203.9 1519.8,1208.3 1520.5,1198.3 1521.2,1214.5 1521.9,1224.3 1522.8,1221.0 1523.5,1220.5 1524.3,1224.5 1525.0,1199.0 1525.7,1171.2 1526.4,1204.6 1527.1,1180.2 1527.9,1170.4 1528.6,1193.7 1529.3,1183.1 1530.0,1185.4 1530.8,1191.6 1531.6,1186.6 1532.4,1214.3 1533.2,1191.7 1533.9,1178.2 1534.6,1197.7 1535.3,1207.5 1536.0,1200.1 1536.9,1178.8 1537.7,1189.8 1538.5,1194.6 1539.3,1219.0 1540.0,1187.5 1540.8,1188.5 1541.4,1160.1 1542.2,1191.8 1542.9,1207.3 1543.7,1200.7 1544.5,1210.4 1545.3,1179.9 1546.1,1263.4 1546.8,1211.5 1547.5,1201.9 1548.2,1187.3 1548.9,1194.2 1549.7,1166.0 1550.6,1173.2 1551.3,1085.5 1552.1,1146.3 1552.8,1146.4 1553.6,1178.1 1554.3,1172.4 1555.2,1171.2 1555.9,1190.3 1556.6,1174.1 1557.4,1193.2 1558.2,1193.8 1558.9,1192.5 1559.7,1188.9 1560.4,1198.2 1561.2,1163.2 1562.0,1202.0 1562.7,1166.3 1563.4,1184.0 1564.1,1198.6 1564.9,1204.7 1565.6,1161.6 1566.4,1135.5 1567.1,1129.4 1567.9,1148.7 1568.5,1160.4 1569.3,1134.3 1570.1,1146.8 1571.0,1165.3 1571.7,1193.1 1572.5,1162.6 1573.3,1168.4 1574.1,1181.5 1575.0,1186.4 1575.7,1107.6 1576.5,1106.2 1577.3,1104.0 1578.0,1098.4 1578.9,1132.4 1579.7,1122.5 1580.5,1107.7 1581.3,1127.4 1582.0,1142.3 1582.7,1098.7 1583.5,1106.2 1584.4,1096.3 1585.0,1121.5 1585.8,1126.6 1586.6,1096.9 1587.3,1138.2 1588.0,1135.4 1588.7,1094.0 1589.4,1078.8 1590.1,1088.0 1590.8,1091.9 1591.5,1090.4 1592.2,1091.3 1592.9,1101.4 1593.6,1069.3 1594.4,1041.4 1595.3,1079.3 1595.9,1079.6 1596.8,1020.8 1597.6,1069.7 1598.4,1049.4 1599.3,1069.6 1600.1,1070.9 1600.8,1053.8 1601.6,1033.9 1602.3,1064.7 1603.0,1009.6 1603.8,1064.7 1604.5,1072.1 1605.4,1028.1 1606.2,1073.8 1606.8,1045.9 1607.5,1043.7 1608.2,1011.4 1609.0,1064.3 1609.6,1025.4 1610.3,1005.4 1611.1,1028.1 1611.9,971.6 1612.7,986.3 1613.4,985.7 1614.3,952.7 1615.1,893.1 1615.8,896.0 1616.4,959.0 1617.3,919.5 1618.1,928.3 1618.8,933.1 1619.6,937.2 1620.3,927.6 1621.0,943.0 1621.7,949.3 1622.5,924.2 1623.3,874.8 1624.0,898.4 1624.8,911.9 1625.5,931.4 1626.3,881.1 1627.1,879.2 1627.8,932.6 1628.4,924.6 1629.1,950.1 1629.8,1009.2 1630.7,989.4 1631.5,990.6 1632.3,957.3 1633.1,1041.6 1633.9,1041.9 1634.6,1090.2 1635.3,1034.3 1636.1,1029.9 1636.8,1053.1 1637.5,1012.0 1638.2,1025.8 1638.9,990.2 1639.7,1027.8 1640.4,1060.7 1641.2,1041.4 1642.0,1096.5 1642.8,1097.9 1643.6,1140.5 1644.2,1136.6 1645.1,1103.0 1645.8,1117.1 1646.6,1089.2 1647.4,1101.2 1648.3,1105.4 1649.1,1189.7 1649.8,1150.3 1650.6,1117.1 1651.3,1165.6 1652.1,1221.1 1652.8,1187.1 1653.5,1151.4 1654.2,1142.8 1655.0,1172.2 1655.7,1158.6 1656.5,1112.2 1657.3,1173.6 1658.0,1165.1 1658.8,1189.8 1659.6,1173.1 1660.4,1176.9 1661.2,1216.4 1662.0,1174.4 1662.8,1162.9 1663.7,1174.1 1664.4,1189.7 1665.2,1187.5 1665.9,1190.2 1666.6,1243.5 1667.5,1196.4 1668.3,1201.7 1669.0,1238.3 1669.9,1233.2 1670.6,1241.3 1671.3,1211.5 1672.0,1226.6 1672.8,1227.6 1673.6,1241.6 1674.4,1217.7 1675.1,1235.0 1675.9,1185.9 1676.5,1214.8 1677.2,1239.5 1678.0,1248.8 1678.9,1260.9 1679.7,1272.7 1680.5,1259.8 1681.2,1254.1 1681.9,1288.2 1682.6,1279.6 1683.4,1278.1 1684.1,1261.5 1684.7,1295.8 1685.4,1293.1 1686.2,1267.9 1687.0,1268.9 1687.7,1261.8 1688.4,1283.3 1689.1,1270.8 1689.9,1246.2 1690.7,1255.3 1691.5,1253.5 1692.2,1273.7 1693.0,1289.6 1693.9,1310.2 1694.7,1299.2 1695.5,1314.6 1696.2,1316.6 1697.0,1301.3 1697.6,1304.0 1698.4,1310.0 1699.2,1313.7 1700.1,1323.1 1700.9,1300.1 1701.5,1323.1 1702.3,1294.4 1703.0,1306.7 1703.7,1298.6 1704.4,1319.9 1705.3,1295.1 1705.9,1310.0 1706.6,1321.2 1707.4,1336.7 1708.3,1312.7 1708.9,1328.5 1709.7,1312.1 1710.5,1308.8 1711.4,1314.7 1712.2,1318.6 1712.9,1308.9 1713.7,1320.9 1714.4,1325.5 1715.1,1337.5 1715.8,1327.6 1716.4,1353.9 1717.1,1344.5 1717.8,1330.5 1718.4,1323.3 1719.3,1331.6 1719.9,1349.2 1720.6,1359.3 1721.5,1364.9 1722.1,1374.2 1722.8,1341.9 1723.4,1371.3 1724.1,1359.8 1724.8,1342.7 1725.5,1334.0 1726.2,1364.7 1727.1,1397.0 1727.9,1366.1 1728.7,1357.4 1729.4,1364.9 1730.1,1363.6 1730.9,1398.8 1731.7,1387.0 1732.6,1376.9 1733.4,1370.9 1734.3,1367.1 1735.1,1363.9 1735.8,1370.7 1736.6,1364.0 1737.4,1369.4 1738.1,1374.5 1738.9,1363.5 1739.6,1364.1 1740.3,1357.3 1741.1,1361.3 1741.8,1361.4 1742.5,1372.1 1743.3,1353.7 1743.9,1354.8 1744.7,1356.0 1745.5,1361.5 1746.2,1371.4 1746.8,1362.1 1747.7,1366.1 1748.4,1372.9 1749.1,1366.0 1749.7,1372.3 1750.4,1387.1 1751.3,1365.8 1752.1,1369.1 1752.8,1375.1 1753.4,1374.0 1754.2,1375.5 1755.0,1370.5 1755.8,1370.6 1756.5,1367.0 1757.1,1383.2 1758.0,1389.0 1758.6,1373.7 1759.3,1380.4 1760.0,1374.8 1760.7,1387.5 1761.4,1386.9 1762.1,1386.2 1762.9,1390.2 1763.7,1392.3 1764.5,1385.3 1765.1,1388.1 1765.8,1386.5 1766.6,1387.4 1767.5,1384.4 1768.2,1379.5 1768.9,1377.6 1769.6,1401.7 1770.4,1382.8 1771.2,1390.5 1772.0,1403.6 1772.6,1396.1 1773.4,1382.4 1774.1,1394.5 1774.9,1396.5 1775.7,1406.8 1776.5,1397.2 1777.3,1393.6 1778.1,1392.9 1778.9,1401.8 1779.6,1403.9 1780.3,1398.1 1781.1,1409.6 1781.8,1403.9 1782.6,1415.5 1783.2,1400.1 1783.9,1394.0 1784.6,1412.8 1785.4,1416.7 1786.1,1409.9 1786.8,1407.5 1787.5,1399.7 1788.1,1404.3 1788.9,1424.5 1789.5,1379.6 1790.3,1401.7 1791.0,1419.5 1791.9,1414.6 1792.7,1427.8 1793.4,1425.2 1794.2,1428.8 1795.0,1428.8 1795.8,1439.0 1796.6,1429.0 1797.2,1433.8 1797.9,1429.9 1798.5,1433.7 1799.3,1426.9 1800.0,1429.3 1800.8,1422.2 1801.7,1429.8 1802.4,1436.2 1803.0,1427.8 1803.8,1440.8 1804.6,1432.9 1805.4,1441.7 1806.1,1427.9 1806.9,1439.8 1807.7,1454.3 1808.6,1438.6 1809.3,1452.8 1810.1,1450.8 1810.9,1446.9 1811.7,1453.1 1812.3,1449.8 1812.9,1450.3 1813.7,1451.7 1814.6,1457.1 1815.3,1454.5 1816.0,1456.1 1816.7,1456.3 1817.4,1449.1 1818.1,1457.1 1818.9,1461.4 1819.6,1462.2 1820.3,1461.8 1821.0,1473.4 1821.7,1466.8 1822.5,1464.5 1823.2,1470.2 1824.0,1466.9 1824.7,1473.7 1825.3,1477.0 1826.0,1481.1 1826.8,1479.5 1827.6,1477.0 1828.3,1486.7 1828.9,1484.0 1829.6,1482.6 1830.5,1474.6 1831.3,1474.8 1832.1,1477.1 1832.8,1483.1 1833.5,1482.6 1834.2,1489.5 1834.9,1488.5 1835.6,1486.1 1836.3,1481.7 1837.1,1487.4 1837.8,1491.2 1838.5,1487.4 1839.2,1486.6 1840.0,1481.2 1840.8,1484.1 1841.6,1490.6 1842.3,1493.0 1843.1,1496.0 1843.8,1488.8 1844.5,1488.5 1845.2,1488.3 1846.0,1489.6 1846.8,1494.1 1847.5,1502.3 1848.3,1492.5 1849.0,1480.9 1849.7,1492.6 1850.4,1496.4 1851.2,1491.4 1851.9,1500.0 1852.7,1502.2 1853.4,1497.9 1854.0,1491.9 1854.7,1485.0 1855.4,1491.8 1856.1,1491.8 1856.8,1488.8 1857.5,1481.1 1858.3,1484.2 1859.1,1485.8 1859.8,1486.0 1860.5,1489.3 1861.2,1482.0 1861.9,1488.0 1862.5,1486.2 1863.3,1485.4 1864.0,1488.7 1864.7,1478.9 1865.4,1486.3 1866.1,1487.2 1866.9,1484.0 1867.7,1494.3 1868.4,1490.3 1869.2,1488.7 1870.0,1485.1 1870.7,1480.6 1871.4,1485.1 1872.1,1481.3 1872.9,1479.5 1873.7,1479.4 1874.5,1484.2 1875.1,1481.1 1875.8,1486.9 1876.6,1482.4 1877.4,1481.0 1878.2,1483.8 1878.9,1481.6 1879.6,1473.2 1880.3,1476.0 1881.0,1479.1 1881.9,1482.4 1882.5,1482.1 1883.2,1482.2 1884.0,1477.8 1884.8,1479.6 1885.7,1475.0 1886.3,1473.3 1887.1,1480.3 1887.9,1470.6 1888.6,1472.2 1889.3,1472.7 1889.9,1467.7 1890.6,1476.3 1891.4,1469.5 1892.1,1466.0 1892.9,1478.8 1893.7,1471.7 1894.5,1479.8 1895.1,1475.4 1895.9,1473.6 1896.7,1468.2 1897.6,1482.9 1898.4,1475.0 1899.0,1470.8 1899.8,1469.6 1900.6,1473.2 1901.2,1475.9 1902.0,1469.2 1902.6,1467.8 1903.4,1470.9 1904.0,1472.8 1904.9,1475.2 1905.6,1472.7 1906.2,1472.4 1906.9,1469.0 1907.6,1464.7 1908.5,1467.6 1909.2,1467.4 1909.9,1465.6 1910.7,1468.4 1911.5,1464.5 1912.1,1465.7 1912.9,1462.2 1913.7,1467.1 1914.4,1467.2 1915.0,1464.6 1915.8,1460.2 1916.4,1463.4 1917.1,1456.8 1918.0,1459.5 1918.7,1456.2 1919.4,1457.6 1920.2,1467.6 1920.9,1465.2 1921.7,1460.0 1922.3,1465.1 1923.0,1460.3 1923.7,1469.8 1924.5,1465.3 1925.3,1469.1 1926.0,1464.5 1926.7,1471.4 1927.5,1475.8 1928.2,1470.8 1929.0,1474.2 1929.9,1469.5 1930.6,1473.8 1931.5,1473.6 1932.1,1474.8 1932.8,1471.1 1933.5,1473.7 1934.2,1469.9 1935.0,1483.0 1935.8,1475.0 1936.6,1482.1 1937.4,1472.7 1938.2,1477.3 1938.9,1468.0 1939.7,1472.4 1940.4,1466.8 1941.2,1464.5 1942.0,1462.0 1942.6,1469.8 1943.5,1471.1 1944.2,1471.2 1945.0,1465.9 1945.7,1463.1 1946.5,1465.4 1947.3,1465.8 1948.0,1471.1 1948.8,1463.2 1949.4,1471.4 1950.1,1459.9 1950.8,1471.8 1951.6,1472.2 1952.4,1465.1 1953.2,1476.9 1953.9,1467.3 1954.7,1466.2 1955.4,1468.1 1956.1,1467.2 1956.8,1475.5 1957.6,1465.8 1958.4,1472.1 1959.2,1472.9 1960.0,1475.1 1960.8,1477.9 1961.4,1484.4 1962.1,1478.7 1963.0,1474.3 1963.7,1469.0 1964.5,1472.1 1965.3,1468.9 1966.1,1471.5 1967.0,1473.2 1967.7,1478.5 1968.5,1477.0 1969.2,1475.8 1969.8,1473.3 1970.5,1467.2 1971.2,1465.4 1972.0,1475.6 1972.7,1463.7 1973.5,1467.1 1974.2,1468.6 1974.9,1463.0 1975.7,1467.2 1976.4,1466.2 1977.2,1468.0 1978.0,1466.3 1978.8,1470.3 1979.4,1472.9 1980.2,1468.2 1981.0,1468.8 1981.7,1478.5 1982.4,1482.7 1983.1,1464.0 1984.0,1472.0 1984.6,1478.4 1985.4,1475.3 1986.1,1473.1 1986.8,1470.6 1987.4,1480.0 1988.3,1486.4 1989.0,1475.8 1989.8,1467.6 1990.6,1479.8 1991.3,1471.6 1992.1,1476.5 1993.0,1476.2 1993.7,1467.6 1994.6,1468.5 1995.3,1474.6 1996.1,1478.3 1996.8,1477.5 1997.7,1471.7 1998.4,1475.7 1999.2,1473.4 1999.9,1473.3 2000.6,1472.0 2001.3,1477.7 2002.0,1465.6 2002.8,1467.2 2003.6,1472.7 2004.3,1474.0 2005.0,1475.8 2005.8,1471.4 2006.7,1470.1 2007.3,1467.2 2008.2,1471.1 2009.0,1467.0 2009.8,1471.1 2010.4,1463.2 2011.1,1460.4 2011.8,1461.5 2012.5,1468.1 2013.3,1461.1 2014.0,1456.6 2014.9,1466.5 2015.7,1468.2 2016.4,1462.0 2017.3,1455.7 2018.0,1455.8 2018.8,1447.3 2019.6,1450.8 2020.3,1443.5 2021.1,1454.7 2021.9,1450.8 2022.7,1451.1 2023.3,1458.9 2024.0,1455.7 2024.9,1453.6 2025.7,1464.7 2026.5,1458.6 2027.4,1462.6 2028.0,1471.6 2028.8,1472.2 2029.6,1471.1 2030.3,1465.9 2031.0,1463.7 2031.8,1474.5 2032.7,1477.4 2033.5,1472.1 2034.4,1473.5 2035.1,1475.8 2035.8,1481.8 2036.6,1472.2 2037.3,1480.5 2038.0,1480.0 2038.8,1475.4 2039.4,1479.5 2040.3,1480.0 2041.0,1477.2 2041.7,1477.2 2042.4,1476.5 2043.0,1476.6 2043.9,1473.5 2044.7,1476.3 2045.4,1470.9 2046.0,1472.1 2046.7,1473.5 2047.5,1479.9 2048.3,1480.7 2049.0,1483.7 2049.8,1471.7 2050.6,1474.3 2051.4,1484.8 2052.2,1475.9 2052.9,1488.5 2053.7,1480.6 2054.5,1473.7 2055.4,1477.7 2056.0,1478.7 2056.8,1483.5 2057.4,1483.8 2058.1,1479.3 2058.8,1488.1 2059.5,1486.8 2060.3,1482.9 2060.9,1483.0 2061.6,1477.1 2062.3,1487.8 2063.0,1483.2 2063.7,1481.8 2064.5,1487.1 2065.3,1478.2 2066.1,1480.4 2066.8,1486.0 2067.6,1485.6 2068.3,1484.1 2069.0,1478.3 2069.6,1483.9 2070.3,1485.1 2071.1,1479.3 2071.8,1479.5 2072.6,1476.6 2073.3,1477.8 2074.1,1485.1 2074.9,1488.2 2075.6,1484.2 2076.4,1471.0 2077.3,1480.8 2078.0,1475.6 2078.7,1480.5 2079.6,1485.4 2080.2,1480.6 2080.9,1467.3 2081.6,1477.0 2082.3,1486.9 2083.0,1486.5 2083.8,1489.5 2084.5,1486.4 2085.2,1491.1 2085.9,1484.6 2086.7,1483.3 2087.4,1488.9 2088.0,1488.6 2088.8,1484.0 2089.7,1493.5 2090.3,1496.9 2091.1,1487.1 2092.0,1489.6 2092.7,1494.9 2093.4,1485.9 2094.1,1482.6 2094.9,1481.7 2095.6,1489.8 2096.2,1496.6 2096.9,1487.2 2097.6,1494.8 2098.3,1483.4 2099.0,1487.9 2099.6,1486.8 2100.3,1492.5 2101.0,1495.4 2101.7,1487.0 2102.4,1487.4 2103.2,1495.1 2103.8,1490.2 2104.6,1502.3 2105.2,1493.8 2105.9,1495.7 2106.5,1484.8 2107.4,1490.9 2108.1,1494.0 2108.8,1492.0 2109.6,1486.0 2110.4,1487.1 2111.2,1495.2 2111.8,1496.3 2112.5,1491.6 2113.2,1486.2 2113.9,1489.7 2114.7,1491.6 2115.5,1497.3 2116.2,1499.2 2117.1,1494.3 2117.8,1494.0 2118.5,1494.6 2119.3,1484.8 2120.2,1491.6 2120.9,1491.4 2121.7,1490.8 2122.5,1490.8 2123.2,1497.9 2124.0,1497.2 2124.7,1501.1 2125.5,1490.0 2126.3,1477.3 2127.0,1489.1 2127.8,1490.8 2128.5,1499.4 2129.3,1497.9 2130.1,1496.1 2130.9,1499.0 2131.7,1498.6 2132.4,1500.7 2133.2,1498.2 2134.0,1508.2 2134.8,1509.5 2135.6,1497.4 2136.3,1497.8 2137.0,1495.7 2137.8,1499.0 2138.6,1494.5 2139.4,1495.7 2140.1,1493.6 2140.7,1496.2 2141.4,1498.6 2142.2,1497.3 2143.0,1492.3 2143.8,1496.8 2144.6,1502.5 2145.4,1498.2 2146.2,1503.6 2146.9,1500.8 2147.8,1496.9 2148.6,1495.5 2149.3,1495.5 2150.0,1492.4 2150.7,1496.3 2151.4,1492.1 2152.1,1506.6 2152.8,1493.2 2153.6,1501.6 2154.4,1493.9 2155.1,1493.2 2155.7,1503.3 2156.5,1504.2 2157.3,1496.5 2158.1,1506.0 2158.8,1510.4 2159.6,1507.5 2160.3,1497.1 2161.1,1500.5 2161.8,1508.6 2162.6,1504.2 2163.3,1504.5 2164.0,1506.0 2164.7,1510.4 2165.4,1511.5 2166.2,1508.6 2167.0,1506.9 2167.7,1508.9 2168.4,1508.7 2169.1,1510.9 2169.8,1511.5 2170.6,1506.5 2171.4,1508.5 2172.1,1501.0 2172.8,1511.5 2173.5,1511.5 2174.2,1511.3 2175.0,1503.4 2175.7,1511.5 2176.4,1508.2 2177.2,1508.3 2178.0,1508.7 2178.7,1511.5 2179.3,1511.1 2180.1,1503.4 2180.9,1511.5 2181.7,1511.5 2182.4,1511.5 2183.1,1510.1 2183.9,1511.5 2184.6,1511.5 2185.0,1511.0" stroke="#ff0000" stroke-width="4.3"/>
</g>
<text x="376.5" y="1338.2" font-size="81.3" text-anchor="end">1x10<tspan dy="-34.5" font-size="53">4</tspan></text>
<text x="376.5" y="1133.9" font-size="81.3" text-anchor="end">2x10<tspan dy="-34.5" font-size="53">4</tspan></text>
<text x="376.5" y="929.6" font-size="81.3" text-anchor="end">3x10<tspan dy="-34.5" font-size="53">4</tspan></text>
<text x="376.5" y="725.3" font-size="81.3" text-anchor="end">4x10<tspan dy="-34.5" font-size="53">4</tspan></text>
<text x="376.5" y="521.0" font-size="81.3" text-anchor="end">5x10<tspan dy="-34.5" font-size="53">4</tspan></text>
<text x="376.5" y="316.7" font-size="81.3" text-anchor="end">6x10<tspan dy="-34.5" font-size="53">4</tspan></text>
<text x="376.5" y="112.4" font-size="81.3" text-anchor="end">7x10<tspan dy="-34.5" font-size="53">4</tspan></text>
<text x="376.5" y="1536.0" font-size="81.3" text-anchor="end">0</text>
<text x="755.7" y="1622.9" font-size="80.5" text-anchor="middle">400</text>
<text x="1420.2" y="1622.9" font-size="80.5" text-anchor="middle">600</text>
<text x="2084.7" y="1622.9" font-size="80.5" text-anchor="middle">800</text>
<text y="1743.2" font-size="119.6"><tspan x="875.3">Wavelength</tspan><tspan x="1521.3"> </tspan><tspan x="1521.3">[nm]</tspan></text>
<text transform="translate(128.6,1161.3) rotate(-90)" font-size="119.6"><tspan x="0">Intensity</tspan><tspan x="493"> </tspan><tspan x="493">[a.u.]</tspan></text>
<text x="448.5" y="197.6" font-size="121">(a)</text>
<text class="r" x="1534" y="822.5" font-size="73">H<tspan dy="21" font-size="56">α</tspan></text>
<text class="r" x="1991" y="1404" font-size="73">O</text>
<rect x="667.5" y="79" width="896" height="289.5" fill="#fff" stroke="#000" stroke-width="6.5"/>
<line x1="676" y1="130.6" x2="842" y2="130.6" stroke="#00f" stroke-width="3.6" stroke-linecap="round"/>
<line x1="676" y1="224.2" x2="842" y2="224.2" stroke="#f00" stroke-width="3.6" stroke-linecap="round"/>
<line x1="678" y1="318" x2="840" y2="318" stroke="#000" stroke-width="9" stroke-linecap="round"/>
<text x="861.5" y="157.6" font-size="66.8" style="fill:#00f" textLength="600" lengthAdjust="spacing">optical fiber in water</text>
<text x="861.5" y="251.1" font-size="66.8" style="fill:#f00" textLength="694" lengthAdjust="spacing">optical fiber in electrode</text>
<text x="861.5" y="343.7" font-size="66.8" textLength="683.5" lengthAdjust="spacing">black-body fitting curve</text>
<g clip-path="url(#cp)">
<rect x="1561" y="83" width="617" height="621" fill="url(#gbg)"/>
<ellipse cx="1830" cy="540" rx="150" ry="75" fill="#b4c0c6" opacity="0.8" filter="url(#b30)"/>
<polygon points="2120,83 2200,83 2200,420 2120,420" fill="#868189" opacity="0.8" filter="url(#b14)"/>
<polyline points="2215,30 2163,150 2082,330 1974,510 1850,740" fill="none" stroke="#776a6c" stroke-width="66" opacity="0.62" filter="url(#b18)"/>
<ellipse cx="1834" cy="255" rx="240" ry="185" fill="#f6f9ff" opacity="0.9" filter="url(#b24)"/>
<polygon points="2019.0,275.0 2018.4,295.6 2016.6,312.0 2013.7,326.9 2009.5,340.8 2004.2,353.8 1997.8,365.9 1990.3,377.2 1981.7,387.6 1972.0,397.1 1961.3,405.7 1949.6,413.4 1937.0,420.1 1923.4,425.8 1908.8,430.5 1893.2,434.2 1876.5,436.9 1858.1,438.5 1835.0,439.0 1811.9,438.5 1793.5,436.9 1776.8,434.2 1761.2,430.5 1746.6,425.8 1733.0,420.1 1720.4,413.4 1708.7,405.7 1698.0,397.1 1688.3,387.6 1679.7,377.2 1672.2,365.9 1665.8,353.8 1660.5,340.8 1656.3,326.9 1653.4,312.0 1651.6,295.6 1651.0,275.0 1651.6,254.4 1653.4,238.0 1656.3,223.1 1660.5,209.2 1665.8,196.2 1672.2,184.1 1679.7,172.8 1688.3,162.4 1698.0,152.9 1708.7,144.3 1720.4,136.6 1733.0,129.9 1746.6,124.2 1761.2,119.5 1776.8,115.8 1793.5,113.1 1811.9,111.5 1835.0,111.0 1858.1,111.5 1876.5,113.1 1893.2,115.8 1908.8,119.5 1923.4,124.2 1937.0,129.9 1949.6,136.6 1961.3,144.3 1972.0,152.9 1981.7,162.4 1990.3,172.8 1997.8,184.1 2004.2,196.2 2009.5,209.2 2013.7,223.1 2016.6,238.0 2018.4,254.4" fill="#fff" filter="url(#b5)"/>
<rect x="1540" y="70" width="660" height="42" fill="#818084" filter="url(#b4)"/>
<rect x="1540" y="196" width="76" height="452" rx="22" fill="#827a85" filter="url(#b8)"/>
<rect x="1540" y="391" width="248" height="66" fill="#7d787d" filter="url(#b4)"/>
<rect x="1789" y="380" width="21" height="95" fill="#fff" filter="url(#b4)"/>
<ellipse cx="1826" cy="476" rx="66" ry="15" fill="#fff" opacity="0.8" filter="url(#b8)"/>
<rect x="1895" y="394" width="300" height="70" fill="#79747a" filter="url(#b4)"/>
<g fill="#7d757b" filter="url(#b4)"><ellipse cx="1864" cy="420" rx="54" ry="57"/><ellipse cx="1884" cy="462" rx="30" ry="25"/><ellipse cx="1890" cy="385" rx="28" ry="24"/></g>
<ellipse cx="2172" cy="422" rx="30" ry="92" fill="#716d6f" filter="url(#b4)"/>
<rect x="2138" y="335" width="6" height="38" fill="#c4c270" opacity="0.8" filter="url(#b4)"/>
<g filter="url(#b2)"><rect x="1700" y="386" width="85" height="5" fill="#c9a6f0" opacity="0.6"/><rect x="1920" y="388" width="46" height="5" fill="#c9a6f0" opacity="0.6"/><rect x="1862" y="357" width="32" height="4" fill="#c9a6f0" opacity="0.5"/></g>
<rect x="1845" y="361" width="8" height="8" fill="#111"/>
<rect x="1961" y="380" width="8" height="8" fill="#111"/>
<rect x="2009" y="521" width="8" height="8" fill="#111"/>
<rect x="2040" y="597" width="6" height="6" fill="#222"/>
<rect x="1880" y="413" width="10" height="13" fill="#fff"/><rect x="1890" y="414" width="7" height="10" fill="#e8603a"/>
<rect x="1956" y="453" width="9" height="9" fill="#f4f4f4"/>
<rect x="1852" y="418" width="8" height="8" fill="#a8a0a8"/>
<rect x="1789" y="405" width="5" height="48" fill="#30b0b8" opacity="0.7"/><rect x="1803" y="423" width="7" height="12" fill="#10a0b0" opacity="0.8"/>
<g fill="#fff"><rect x="1981" y="649.5" width="128" height="11"/><rect x="1981" y="629" width="10.2" height="52"/><rect x="2099" y="629" width="10.2" height="52"/></g>
<text x="1983 2005.5 2030 2074.5" y="615.3" font-size="44" style="fill:#fff">10mm</text>
</g>
<defs><clipPath id="cb"><rect x="415.3" y="1901.8" width="1729.7" height="1414.2"/></clipPath></defs>
<g clip-path="url(#cb)" fill="none">
<g stroke="#c8c8c8" stroke-width="2" stroke-dasharray="8.3 4.6">
<line x1="415.3" y1="3287.0" x2="2145.0" y2="3287.0"/>
<line x1="415.3" y1="3223.0" x2="2145.0" y2="3223.0"/>
<line x1="415.3" y1="3171.0" x2="2145.0" y2="3171.0"/>
<line x1="415.3" y1="3127.0" x2="2145.0" y2="3127.0"/>
<line x1="415.3" y1="3089.0" x2="2145.0" y2="3089.0"/>
<line x1="415.3" y1="3055.0" x2="2145.0" y2="3055.0"/>
<line x1="415.3" y1="2827.0" x2="2145.0" y2="2827.0"/>
<line x1="415.3" y1="2711.0" x2="2145.0" y2="2711.0"/>
<line x1="415.3" y1="2629.0" x2="2145.0" y2="2629.0"/>
<line x1="415.3" y1="2565.0" x2="2145.0" y2="2565.0"/>
<line x1="415.3" y1="2513.0" x2="2145.0" y2="2513.0"/>
<line x1="415.3" y1="2469.0" x2="2145.0" y2="2469.0"/>
<line x1="415.3" y1="2431.0" x2="2145.0" y2="2431.0"/>
<line x1="415.3" y1="2397.0" x2="2145.0" y2="2397.0"/>
<line x1="415.3" y1="2169.0" x2="2145.0" y2="2169.0"/>
<line x1="415.3" y1="2053.0" x2="2145.0" y2="2053.0"/>
<line x1="415.3" y1="1970.0" x2="2145.0" y2="1970.0"/>
<line x1="415.3" y1="1907.0" x2="2145.0" y2="1907.0"/>
<line x1="588.0" y1="1901.8" x2="588.0" y2="3316.0"/>
<line x1="934.0" y1="1901.8" x2="934.0" y2="3316.0"/>
<line x1="1280.0" y1="1901.8" x2="1280.0" y2="3316.0"/>
<line x1="1626.0" y1="1901.8" x2="1626.0" y2="3316.0"/>
<line x1="1972.0" y1="1901.8" x2="1972.0" y2="3316.0"/>
</g>
<g stroke="#9a9a9a" stroke-width="2">
<line x1="415.3" y1="3025.0" x2="2145.0" y2="3025.0"/>
<line x1="415.3" y1="2367.0" x2="2145.0" y2="2367.0"/>
<line x1="761.0" y1="1901.8" x2="761.0" y2="3316.0"/>
<line x1="1107.0" y1="1901.8" x2="1107.0" y2="3316.0"/>
<line x1="1453.0" y1="1901.8" x2="1453.0" y2="3316.0"/>
<line x1="1799.0" y1="1901.8" x2="1799.0" y2="3316.0"/>
</g>
<polyline points="415.3,1999.0 435.0,2038.7 450.9,2078.4 466.8,2122.1 480.7,2173.7 498.3,2237.1 518.4,2296.7 542.2,2364.1 558.2,2399.8 574.1,2435.6 588.2,2467.3 605.9,2503.0 640.1,2571.9 657.4,2609.6 674.7,2643.3 692.0,2675.9 709.3,2712.0 726.6,2744.5 743.9,2781.4 761.2,2814.0 778.5,2848.9 795.8,2883.4 813.1,2907.2 830.4,2954.8 847.7,2972.7 865.0,2992.5 882.3,3015.6 899.6,3041.3 916.9,3069.9 934.2,3101.7 951.4,3100.5 968.7,3134.6 986.0,3133.4 1003.3,3171.1 1020.6,3168.3 1037.9,3210.0 1055.2,3203.7 1072.5,3194.9 1089.8,3184.2 1107.1,3214.0 1124.4,3191.0 1141.7,3167.1 1159.0,3145.3 1176.3,3173.1 1193.6,3169.1 1210.9,3164.0 1228.2,3147.5 1245.5,3133.4 1262.8,3116.7 1280.0,3097.7 1297.3,3096.9 1314.6,3100.9 1331.9,3056.0 1349.2,3042.1 1366.5,3044.9 1383.8,3012.4 1401.1,2968.7 1418.4,2899.3 1435.7,2867.5 1453.0,2782.2 1470.3,2740.6 1487.6,2722.7 1504.9,2721.5 1522.2,2710.8 1539.5,2704.8 1556.8,2698.1 1574.1,2692.1 1591.4,2685.0 1608.7,2677.9 1626.0,2667.1 1643.2,2651.3 1660.5,2631.4 1677.8,2606.8 1695.1,2602.1 1712.4,2596.9 1729.7,2589.0 1747.0,2579.0 1764.3,2566.0 1781.6,2540.0 1798.9,2510.0 1816.2,2480.0 1833.5,2439.0 1850.8,2394.0 1868.1,2338.0 1885.4,2277.8 1902.7,2218.3 1920.0,2142.9 1937.3,2097.2 1954.6,2080.4 1971.8,2077.4 1989.1,2075.0 2006.4,2073.4 2023.7,2072.0 2041.0,2073.4 2058.3,2077.0 2075.6,2082.3 2092.9,2090.3 2110.2,2101.2 2127.5,2113.1 2144.8,2125.4" stroke="#ff0000" stroke-width="8" stroke-linejoin="miter"/>
</g>
<g stroke="#000" stroke-width="6" fill="none">
<rect x="415.3" y="1901.8" width="1729.7" height="1414.2"/>
<line x1="400.8" y1="3287.1" x2="415.3" y2="3287.1"/>
<line x1="2130.5" y1="3287.1" x2="2145.0" y2="3287.1"/>
<line x1="400.8" y1="3223.3" x2="415.3" y2="3223.3"/>
<line x1="2130.5" y1="3223.3" x2="2145.0" y2="3223.3"/>
<line x1="400.8" y1="3171.1" x2="415.3" y2="3171.1"/>
<line x1="2130.5" y1="3171.1" x2="2145.0" y2="3171.1"/>
<line x1="400.8" y1="3127.1" x2="415.3" y2="3127.1"/>
<line x1="2130.5" y1="3127.1" x2="2145.0" y2="3127.1"/>
<line x1="400.8" y1="3088.9" x2="415.3" y2="3088.9"/>
<line x1="2130.5" y1="3088.9" x2="2145.0" y2="3088.9"/>
<line x1="400.8" y1="3055.2" x2="415.3" y2="3055.2"/>
<line x1="2130.5" y1="3055.2" x2="2145.0" y2="3055.2"/>
<line x1="387.3" y1="3025.1" x2="415.3" y2="3025.1"/>
<line x1="2117.0" y1="3025.1" x2="2145.0" y2="3025.1"/>
<line x1="400.8" y1="2826.9" x2="415.3" y2="2826.9"/>
<line x1="2130.5" y1="2826.9" x2="2145.0" y2="2826.9"/>
<line x1="400.8" y1="2711.0" x2="415.3" y2="2711.0"/>
<line x1="2130.5" y1="2711.0" x2="2145.0" y2="2711.0"/>
<line x1="400.8" y1="2628.8" x2="415.3" y2="2628.8"/>
<line x1="2130.5" y1="2628.8" x2="2145.0" y2="2628.8"/>
<line x1="400.8" y1="2565.0" x2="415.3" y2="2565.0"/>
<line x1="2130.5" y1="2565.0" x2="2145.0" y2="2565.0"/>
<line x1="400.8" y1="2512.8" x2="415.3" y2="2512.8"/>
<line x1="2130.5" y1="2512.8" x2="2145.0" y2="2512.8"/>
<line x1="400.8" y1="2468.8" x2="415.3" y2="2468.8"/>
<line x1="2130.5" y1="2468.8" x2="2145.0" y2="2468.8"/>
<line x1="400.8" y1="2430.6" x2="415.3" y2="2430.6"/>
<line x1="2130.5" y1="2430.6" x2="2145.0" y2="2430.6"/>
<line x1="400.8" y1="2396.9" x2="415.3" y2="2396.9"/>
<line x1="2130.5" y1="2396.9" x2="2145.0" y2="2396.9"/>
<line x1="387.3" y1="2366.8" x2="415.3" y2="2366.8"/>
<line x1="2117.0" y1="2366.8" x2="2145.0" y2="2366.8"/>
<line x1="400.8" y1="2168.6" x2="415.3" y2="2168.6"/>
<line x1="2130.5" y1="2168.6" x2="2145.0" y2="2168.6"/>
<line x1="400.8" y1="2052.7" x2="415.3" y2="2052.7"/>
<line x1="2130.5" y1="2052.7" x2="2145.0" y2="2052.7"/>
<line x1="400.8" y1="1970.5" x2="415.3" y2="1970.5"/>
<line x1="2130.5" y1="1970.5" x2="2145.0" y2="1970.5"/>
<line x1="400.8" y1="1906.7" x2="415.3" y2="1906.7"/>
<line x1="2130.5" y1="1906.7" x2="2145.0" y2="1906.7"/>
<line x1="415.3" y1="3316.0" x2="415.3" y2="3344.0"/>
<line x1="588.2" y1="3316.0" x2="588.2" y2="3330.0"/>
<line x1="588.2" y1="1901.8" x2="588.2" y2="1915.8"/>
<line x1="761.2" y1="3316.0" x2="761.2" y2="3344.0"/>
<line x1="761.2" y1="1901.8" x2="761.2" y2="1929.8"/>
<line x1="934.2" y1="3316.0" x2="934.2" y2="3330.0"/>
<line x1="934.2" y1="1901.8" x2="934.2" y2="1915.8"/>
<line x1="1107.1" y1="3316.0" x2="1107.1" y2="3344.0"/>
<line x1="1107.1" y1="1901.8" x2="1107.1" y2="1929.8"/>
<line x1="1280.0" y1="3316.0" x2="1280.0" y2="3330.0"/>
<line x1="1280.0" y1="1901.8" x2="1280.0" y2="1915.8"/>
<line x1="1453.0" y1="3316.0" x2="1453.0" y2="3344.0"/>
<line x1="1453.0" y1="1901.8" x2="1453.0" y2="1929.8"/>
<line x1="1626.0" y1="3316.0" x2="1626.0" y2="3330.0"/>
<line x1="1626.0" y1="1901.8" x2="1626.0" y2="1915.8"/>
<line x1="1798.9" y1="3316.0" x2="1798.9" y2="3344.0"/>
<line x1="1798.9" y1="1901.8" x2="1798.9" y2="1929.8"/>
<line x1="1971.8" y1="3316.0" x2="1971.8" y2="3330.0"/>
<line x1="1971.8" y1="1901.8" x2="1971.8" y2="1915.8"/>
<line x1="2144.8" y1="3316.0" x2="2144.8" y2="3344.0"/>
</g>
<text x="415.3" y="3426.2" font-size="80.5" text-anchor="middle">300</text>
<text x="761.2" y="3426.2" font-size="80.5" text-anchor="middle">400</text>
<text x="1107.1" y="3426.2" font-size="80.5" text-anchor="middle">500</text>
<text x="1453.0" y="3426.2" font-size="80.5" text-anchor="middle">600</text>
<text x="1798.9" y="3426.2" font-size="80.5" text-anchor="middle">700</text>
<text x="2144.8" y="3426.2" font-size="80.5" text-anchor="middle">800</text>
<text x="368" y="2390.8" font-size="78.6" text-anchor="end">0.01</text>
<text x="368" y="3047.6" font-size="78.6" text-anchor="end">0.001</text>
<text y="3550.5" font-size="117.3"><tspan x="875.2">Wavelength</tspan><tspan x="1509.3"> </tspan><tspan x="1509.3">[nm]</tspan></text>
<text transform="translate(151,3377.5) rotate(-90)" font-size="120">Absorption coefficient [cm<tspan dy="-53" font-size="80">-1</tspan><tspan dy="53">]</tspan></text>
<text x="483" y="2039" font-size="119.5">(b)</text>
</svg></body></html>
